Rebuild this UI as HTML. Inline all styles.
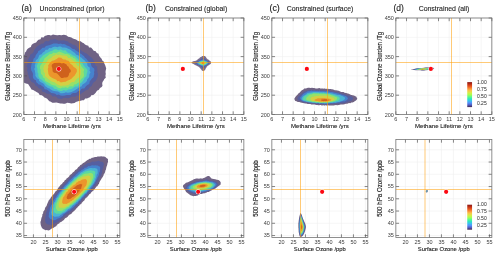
<!DOCTYPE html><html><head><meta charset="utf-8"><style>html,body{margin:0;padding:0;background:#fff}svg{display:block;will-change:transform}</style></head><body><svg width="500" height="258" viewBox="0 0 500 258" font-family="Liberation Sans, sans-serif">
<rect width="500" height="258" fill="#fff"/>
<clipPath id="c00"><rect x="23.85" y="18.00" width="96.00" height="96.50"/></clipPath>
<path d="M23.85 18.00V114.50M34.52 18.00V114.50M45.18 18.00V114.50M55.85 18.00V114.50M66.52 18.00V114.50M77.18 18.00V114.50M87.85 18.00V114.50M98.52 18.00V114.50M109.18 18.00V114.50M119.85 18.00V114.50M23.85 114.50H119.85M23.85 95.20H119.85M23.85 75.90H119.85M23.85 56.60H119.85M23.85 37.30H119.85M23.85 18.00H119.85" stroke="#f0f0f0" stroke-width="0.6" fill="none"/>
<g clip-path="url(#c00)"><path d="M20.8 66.0L20.4 63.9L21.0 61.6L20.2 59.6L21.0 58.0L22.2 56.4L23.5 55.1L24.7 54.4L24.8 52.7L26.1 51.6L26.7 50.1L27.7 48.8L29.2 47.8L30.9 46.9L31.5 44.9L32.9 43.7L34.6 43.0L36.1 42.4L37.2 41.0L38.5 39.7L40.5 39.3L41.4 37.2L43.5 37.5L44.7 36.1L46.3 35.4L47.8 35.0L49.3 34.9L51.0 35.4L53.0 34.5L55.1 35.1L57.3 35.2L59.4 34.9L61.5 35.3L63.6 34.8L65.2 35.1L66.7 35.6L68.1 36.7L69.7 36.9L71.4 37.5L72.9 38.5L74.4 38.9L76.1 39.4L77.3 40.6L79.0 41.2L80.7 41.2L82.1 42.4L83.8 43.2L85.0 44.4L86.5 45.2L88.3 45.7L89.0 47.4L91.0 47.5L92.4 49.1L93.7 50.7L95.7 51.3L96.8 53.0L98.5 53.8L99.1 55.8L100.2 57.3L101.6 58.8L102.3 60.6L103.9 61.7L104.3 63.5L105.1 64.9L105.6 66.6L106.2 68.4L105.8 70.0L105.5 72.0L105.8 74.0L105.4 75.7L105.8 77.8L104.3 79.0L103.6 80.6L102.5 82.1L102.2 83.8L102.5 85.7L101.7 87.1L100.0 88.1L98.9 89.8L97.0 90.8L95.7 92.7L94.5 93.9L93.3 95.0L91.3 95.2L90.3 96.9L88.6 97.8L86.9 98.4L85.1 98.5L84.0 100.2L82.2 100.3L80.7 100.8L79.0 100.9L77.4 101.6L75.9 101.9L74.6 103.1L72.9 103.2L71.3 103.5L69.2 102.9L67.1 102.7L65.1 103.8L63.5 103.7L62.0 103.5L60.4 103.4L58.4 102.9L56.2 102.6L54.1 102.8L52.3 102.8L50.9 101.7L49.4 101.2L48.2 100.1L47.2 98.7L45.8 98.1L44.4 97.4L43.2 96.3L41.8 95.3L39.7 95.0L38.4 93.0L36.5 92.1L34.9 90.9L33.2 90.1L31.5 89.4L30.4 87.4L29.2 85.7L28.1 84.0L25.9 83.6L24.2 82.7L22.7 81.0L21.9 79.6L21.6 77.8L20.7 76.0L20.3 74.1L20.4 72.1L20.3 70.1L20.8 68.0Z" fill="#6f6284"/>
<path d="M26.3 66.0L27.6 64.3L27.5 62.7L27.3 60.8L28.1 59.4L28.9 57.9L29.8 56.3L30.4 54.5L32.3 53.5L33.6 52.0L34.2 50.0L35.5 48.6L36.6 46.9L38.2 45.7L40.0 44.8L41.5 43.7L43.5 43.5L44.6 41.8L46.2 40.9L48.2 41.5L49.6 40.4L51.0 39.5L52.7 39.8L54.2 38.9L56.2 39.6L58.2 40.5L60.3 40.6L62.1 40.6L63.9 40.3L65.7 40.9L67.6 41.2L69.0 42.7L70.9 43.3L72.5 44.5L74.5 45.0L76.2 45.9L77.3 47.6L78.7 48.9L80.3 49.8L81.9 50.9L83.5 52.0L85.1 53.0L87.0 53.7L88.3 55.3L89.9 56.6L91.6 57.7L92.8 59.1L93.6 60.8L94.6 62.2L94.9 63.9L95.4 65.4L97.1 66.5L97.1 68.2L97.3 70.0L97.4 72.2L98.0 73.9L97.8 75.8L97.3 77.7L96.6 79.2L95.8 80.7L94.5 81.7L93.3 82.8L92.4 84.3L91.8 85.8L90.5 86.8L89.2 87.8L88.5 89.6L86.7 89.9L85.0 90.7L83.6 91.9L82.0 92.9L80.5 94.2L78.8 95.4L76.7 95.4L75.1 96.7L73.1 96.5L71.2 96.8L69.3 97.9L67.1 98.2L65.0 97.7L63.3 98.1L61.7 98.9L59.9 98.8L58.0 98.4L56.4 96.8L54.3 96.3L52.5 96.6L51.3 95.0L49.8 94.1L48.1 93.8L46.5 93.4L45.2 92.4L43.6 92.1L42.1 91.4L41.5 89.3L39.8 88.8L38.4 87.9L37.5 86.5L35.6 85.8L34.8 84.1L33.5 82.8L31.6 81.9L30.4 80.3L29.3 78.5L28.7 77.1L28.6 75.4L27.8 73.9L27.7 72.2L26.9 70.2L27.7 67.9Z" fill="#555fa0"/>
<path d="M31.1 66.8L31.4 64.6L32.1 62.4L33.2 60.9L33.5 58.7L35.2 57.2L35.6 55.5L36.6 54.1L37.7 52.7L38.3 51.0L40.0 50.2L41.2 48.9L42.5 47.7L44.5 47.7L45.9 45.9L47.9 45.4L49.9 44.9L51.7 44.2L53.4 43.5L55.3 43.5L57.1 43.6L58.8 44.1L60.8 43.4L62.2 44.2L63.9 44.1L65.4 44.5L66.8 45.6L68.5 45.9L70.0 46.8L71.4 47.9L72.8 48.9L74.6 49.2L75.8 50.4L77.2 51.2L78.6 52.2L79.8 53.3L81.4 54.0L82.7 55.2L84.1 56.2L84.9 57.8L86.4 58.8L87.4 60.2L88.4 61.4L90.4 62.6L91.1 64.5L91.5 66.2L92.6 67.5L94.1 68.4L94.5 70.2L94.0 72.3L94.3 73.8L93.8 75.5L93.5 77.2L92.0 78.6L90.8 80.1L89.7 81.5L89.3 84.0L87.3 85.1L85.7 86.5L84.3 88.4L82.4 88.5L81.0 89.3L80.2 91.1L78.2 91.0L76.9 92.5L75.2 93.1L73.4 93.0L71.9 93.6L70.5 94.9L68.6 94.9L66.7 95.1L64.9 95.5L62.6 95.8L60.4 95.5L58.8 94.6L56.8 95.1L55.3 93.8L53.4 93.2L51.3 92.9L49.7 91.7L48.2 90.4L46.6 89.6L44.6 89.2L43.7 87.0L41.9 86.1L40.6 84.8L38.6 84.6L37.6 83.3L36.3 82.3L35.9 80.3L34.3 79.4L33.1 77.9L32.8 76.0L33.0 74.0L32.4 72.2L31.3 70.4L30.9 68.6Z" fill="#4682cd"/>
<path d="M35.1 67.4L34.8 65.5L35.4 63.6L35.3 61.7L36.1 60.0L37.8 58.8L38.6 56.9L39.4 54.9L41.6 54.2L42.8 52.6L44.6 51.6L45.7 49.7L47.9 49.7L49.1 47.9L51.1 48.2L52.6 47.2L54.2 46.7L55.8 46.8L57.4 47.3L59.0 46.6L60.7 46.6L62.4 47.5L64.4 47.4L66.3 47.8L68.2 48.7L70.1 49.5L71.8 50.8L73.4 52.0L75.0 53.1L76.2 54.7L78.3 55.3L79.7 56.8L81.6 57.7L83.0 59.2L84.8 60.4L85.9 62.1L87.3 63.4L87.4 65.5L88.4 66.7L89.7 67.6L89.9 69.0L89.5 70.5L90.6 72.3L89.4 74.2L89.3 76.5L88.5 77.9L87.2 79.2L86.9 80.9L85.6 82.4L84.2 83.6L82.5 84.5L81.4 86.4L79.3 87.1L77.6 88.4L76.3 89.2L75.0 90.2L73.6 90.9L71.5 92.0L69.3 92.5L67.7 92.8L65.9 92.2L64.4 93.0L62.3 93.2L60.3 93.2L59.0 91.9L57.5 91.4L55.9 91.2L54.1 91.1L52.4 90.4L50.8 89.6L49.5 88.6L47.8 88.1L46.6 86.9L45.0 86.1L44.1 84.3L42.9 83.3L40.9 82.3L39.1 81.0L38.9 79.2L37.2 78.6L36.4 77.2L35.3 75.8L35.4 73.9L35.1 72.3L34.9 70.6L34.2 69.0Z" fill="#4bb4d2"/>
<path d="M37.2 67.9L36.6 66.0L37.5 64.3L37.8 62.8L39.0 61.5L39.4 59.7L40.3 58.2L41.7 56.9L42.9 55.5L44.6 54.6L46.0 53.5L47.7 52.8L49.0 51.9L50.5 51.2L52.0 50.9L54.0 49.6L56.2 49.2L58.3 50.2L60.6 49.3L62.1 50.3L63.7 50.5L65.6 50.2L66.9 52.0L68.5 52.9L70.2 53.5L71.6 54.6L73.0 55.6L74.9 55.9L76.1 57.3L77.6 58.4L78.7 59.8L80.0 61.0L81.3 62.3L82.7 63.4L83.3 65.0L84.4 66.2L85.1 67.3L86.9 69.1L87.5 70.6L87.3 72.2L86.7 74.1L86.5 76.2L84.6 77.7L83.8 79.8L82.7 81.2L81.6 82.4L80.2 83.4L79.0 84.7L77.8 86.4L75.5 86.5L73.8 87.5L72.0 88.7L70.1 89.3L68.1 89.6L66.0 90.8L63.8 90.1L62.0 90.9L60.2 91.0L58.2 90.3L56.3 89.0L54.6 89.1L53.4 87.8L52.2 86.8L49.9 86.3L48.0 85.3L46.7 84.4L45.6 83.2L44.5 82.2L42.9 81.1L41.7 79.7L39.7 78.6L38.6 76.8L38.2 75.3L38.4 73.6L37.5 72.2L37.5 70.0Z" fill="#5cd9a0"/>
<path d="M39.8 68.2L40.0 66.6L40.7 65.1L42.0 63.4L43.1 61.5L43.9 60.2L44.4 58.6L45.7 57.6L46.9 56.5L48.2 55.5L49.3 54.3L51.7 54.1L53.3 52.4L55.4 52.9L57.2 52.6L59.1 51.4L61.0 52.3L63.0 53.1L65.1 53.9L66.8 53.8L68.4 54.4L69.8 55.1L70.6 56.8L72.4 56.8L73.3 58.1L75.0 58.5L76.0 59.9L76.8 61.3L78.8 61.6L79.2 63.4L80.6 64.3L81.4 66.3L82.6 67.8L84.3 69.4L83.5 72.0L83.9 73.7L84.0 75.6L83.2 77.4L81.5 78.7L80.7 80.1L79.8 81.3L78.8 82.5L77.3 83.2L76.0 84.2L74.2 84.5L73.1 86.4L71.0 86.2L69.3 86.6L67.8 88.0L65.7 87.3L63.9 87.8L62.3 87.6L60.7 88.4L59.0 87.9L57.2 87.2L55.6 85.7L53.5 85.3L51.6 84.7L50.0 83.5L48.1 82.6L46.3 81.6L45.0 80.4L44.7 78.4L42.9 77.6L42.6 75.6L41.1 74.1L40.7 72.1L40.7 70.1Z" fill="#96e169"/>
<path d="M43.2 68.4L43.9 65.8L45.3 64.5L46.2 62.9L47.2 61.2L48.2 59.5L50.0 58.5L51.7 57.5L53.0 56.1L54.7 55.6L56.1 54.3L57.9 55.0L59.5 54.6L61.1 55.3L62.9 55.4L64.9 55.4L66.9 56.0L68.1 58.1L70.3 58.2L71.7 59.7L73.4 60.7L75.1 61.9L76.2 63.8L77.2 65.5L79.1 66.4L79.4 68.0L80.8 69.4L80.7 71.7L80.7 73.1L80.6 74.7L79.8 76.2L78.9 77.6L76.5 79.0L74.9 81.0L74.0 82.2L72.2 82.1L70.8 82.7L69.7 84.1L68.4 84.9L66.9 85.2L65.2 85.7L63.6 85.5L60.8 85.9L59.3 85.3L57.8 84.8L56.3 83.7L54.9 82.6L53.3 81.9L51.7 81.5L50.2 80.5L49.0 79.4L47.7 78.5L46.7 77.5L45.4 76.6L44.7 75.0L45.1 73.2L43.6 71.8L43.8 70.0Z" fill="#d4d044"/>
<path d="M47.8 68.9L48.4 67.0L48.1 65.5L48.9 64.2L49.8 62.9L51.0 61.8L52.2 60.8L53.9 60.5L55.1 59.7L56.3 59.2L58.6 57.5L61.2 57.8L62.5 58.9L63.8 59.5L65.4 59.6L66.8 60.6L68.5 60.7L69.4 62.1L70.2 63.6L71.5 64.4L72.7 65.5L73.5 66.7L75.8 68.3L76.8 69.6L76.9 71.5L75.9 73.6L74.5 75.7L73.0 77.0L71.7 78.4L69.9 79.7L67.7 80.6L65.6 81.7L63.0 81.9L60.9 82.6L58.8 81.0L57.2 81.2L56.4 79.7L54.0 78.8L51.5 77.6L49.7 76.2L48.4 74.1L48.1 71.4Z" fill="#ec962c"/>
<path d="M52.3 67.9L51.6 66.1L52.0 64.4L54.1 63.0L55.9 62.8L57.9 62.5L59.9 62.6L61.7 63.5L63.6 63.0L65.1 63.8L66.5 64.6L67.3 66.0L68.6 66.7L69.1 68.2L70.2 69.2L70.8 70.6L70.7 72.1L69.3 73.1L69.0 74.4L68.4 75.9L67.3 77.2L65.5 77.4L64.1 77.6L62.8 78.0L61.3 78.0L60.2 76.9L58.6 75.1L57.1 73.6L56.1 72.9L54.0 72.7L52.6 71.3L52.5 69.6Z" fill="#cf611c"/></g>
<path d="M79.50 18.00V114.50M23.85 62.50H119.85" stroke="#ff9f0a" stroke-width="0.85" stroke-opacity="0.66" fill="none"/>
<circle cx="58.84" cy="68.95" r="2.5" fill="#fff"/><circle cx="58.84" cy="68.95" r="2.1" fill="#fc0812"/>
<path d="M23.85 114.50v-3.20M23.85 18.00v3.20M34.52 114.50v-3.20M34.52 18.00v3.20M45.18 114.50v-3.20M45.18 18.00v3.20M55.85 114.50v-3.20M55.85 18.00v3.20M66.52 114.50v-3.20M66.52 18.00v3.20M77.18 114.50v-3.20M77.18 18.00v3.20M87.85 114.50v-3.20M87.85 18.00v3.20M98.52 114.50v-3.20M98.52 18.00v3.20M109.18 114.50v-3.20M109.18 18.00v3.20M119.85 114.50v-3.20M119.85 18.00v3.20M23.85 114.50h3.20M119.85 114.50h-3.20M23.85 95.20h3.20M119.85 95.20h-3.20M23.85 75.90h3.20M119.85 75.90h-3.20M23.85 56.60h3.20M119.85 56.60h-3.20M23.85 37.30h3.20M119.85 37.30h-3.20M23.85 18.00h3.20M119.85 18.00h-3.20" stroke="#555" stroke-width="0.7" fill="none"/>
<rect x="23.85" y="18.00" width="96.00" height="96.50" fill="none" stroke="#747474" stroke-width="0.8"/>
<text x="23.85" y="121.10" font-size="5.5" text-anchor="middle" fill="#3c3c3c">6</text>
<text x="34.52" y="121.10" font-size="5.5" text-anchor="middle" fill="#3c3c3c">7</text>
<text x="45.18" y="121.10" font-size="5.5" text-anchor="middle" fill="#3c3c3c">8</text>
<text x="55.85" y="121.10" font-size="5.5" text-anchor="middle" fill="#3c3c3c">9</text>
<text x="66.52" y="121.10" font-size="5.5" text-anchor="middle" fill="#3c3c3c">10</text>
<text x="77.18" y="121.10" font-size="5.5" text-anchor="middle" fill="#3c3c3c">11</text>
<text x="87.85" y="121.10" font-size="5.5" text-anchor="middle" fill="#3c3c3c">12</text>
<text x="98.52" y="121.10" font-size="5.5" text-anchor="middle" fill="#3c3c3c">13</text>
<text x="109.18" y="121.10" font-size="5.5" text-anchor="middle" fill="#3c3c3c">14</text>
<text x="119.85" y="121.10" font-size="5.5" text-anchor="middle" fill="#3c3c3c">15</text>
<text x="21.85" y="116.50" font-size="5.5" text-anchor="end" fill="#3c3c3c">200</text>
<text x="21.85" y="97.20" font-size="5.5" text-anchor="end" fill="#3c3c3c">250</text>
<text x="21.85" y="77.90" font-size="5.5" text-anchor="end" fill="#3c3c3c">300</text>
<text x="21.85" y="58.60" font-size="5.5" text-anchor="end" fill="#3c3c3c">350</text>
<text x="21.85" y="39.30" font-size="5.5" text-anchor="end" fill="#3c3c3c">400</text>
<text x="21.85" y="20.00" font-size="5.5" text-anchor="end" fill="#3c3c3c">450</text>
<text x="43.05" y="128.40" font-size="6.0" textLength="57.6" lengthAdjust="spacingAndGlyphs" fill="#1c1c1c" stroke="#1c1c1c" stroke-width="0.12">Methane Lifetime /yrs</text>
<text transform="translate(10.05 66.25) rotate(-90)" x="-34.50" font-size="6.35" textLength="69.0" lengthAdjust="spacingAndGlyphs" fill="#1c1c1c" stroke="#1c1c1c" stroke-width="0.12">Global Ozone Burden /Tg</text>
<text x="21.45" y="11.2" font-size="8.2" textLength="10.4" lengthAdjust="spacingAndGlyphs" fill="#1c1c1c" stroke="#1c1c1c" stroke-width="0.12">(a)</text>
<text x="72.05" y="11.1" font-size="6.93" text-anchor="middle" fill="#1c1c1c" stroke="#1c1c1c" stroke-width="0.1">Unconstrained (prior)</text>
<clipPath id="c01"><rect x="147.85" y="18.00" width="96.00" height="96.50"/></clipPath>
<path d="M147.85 18.00V114.50M158.52 18.00V114.50M169.18 18.00V114.50M179.85 18.00V114.50M190.52 18.00V114.50M201.18 18.00V114.50M211.85 18.00V114.50M222.52 18.00V114.50M233.18 18.00V114.50M243.85 18.00V114.50M147.85 114.50H243.85M147.85 95.20H243.85M147.85 75.90H243.85M147.85 56.60H243.85M147.85 37.30H243.85M147.85 18.00H243.85" stroke="#f0f0f0" stroke-width="0.6" fill="none"/>
<g clip-path="url(#c01)"><path d="M191.5 63.0L191.7 62.0L192.4 61.7L193.3 61.3L194.2 61.0L195.1 61.0L196.1 60.4L196.9 60.2L197.3 59.7L197.8 59.3L198.3 59.1L198.7 58.6L199.2 58.5L199.5 58.0L199.9 57.6L200.3 57.3L200.8 57.1L201.3 56.8L201.9 56.6L202.3 56.1L203.0 56.0L203.6 55.8L204.2 56.0L204.9 56.0L205.4 56.4L205.9 56.9L206.2 57.4L206.4 58.0L206.8 58.4L207.2 58.8L207.5 59.2L208.0 59.5L208.6 59.7L209.1 60.1L209.5 60.7L210.1 61.1L210.8 61.5L211.0 62.3L211.1 63.0L210.8 63.7L210.2 64.3L209.4 64.8L208.8 65.2L208.3 65.5L207.8 65.8L207.4 66.0L207.2 66.5L206.7 66.8L206.6 67.3L206.3 67.7L205.9 68.2L205.6 68.7L205.3 69.4L205.0 70.2L204.3 70.6L203.7 71.0L203.0 70.9L202.3 70.8L201.7 70.3L201.3 69.5L200.7 69.0L200.4 68.5L200.1 68.0L199.7 67.6L199.2 67.4L198.9 67.1L198.4 66.8L198.1 66.3L197.4 66.2L196.8 65.8L196.1 65.4L195.1 65.1L194.2 64.6L193.1 63.7L192.3 63.4Z" fill="#7a6e90"/>
<path d="M194.7 63.0L194.9 62.3L195.9 61.7L197.0 61.3L197.7 60.9L198.3 60.9L198.8 60.6L199.1 60.3L199.5 60.2L199.7 59.7L200.1 59.5L200.5 59.4L200.9 59.3L201.2 59.1L201.4 58.8L201.8 58.6L202.2 58.4L202.6 58.3L203.0 58.3L203.4 58.0L203.8 58.2L204.2 58.3L204.6 58.6L204.9 58.8L205.2 59.0L205.6 59.3L205.8 59.6L206.1 59.8L206.4 60.1L206.9 60.2L207.2 60.5L207.6 60.9L208.1 61.1L208.6 61.4L209.0 61.8L209.2 62.4L209.3 63.0L208.9 63.4L208.6 63.9L208.0 64.2L207.6 64.7L207.2 65.0L206.8 65.3L206.4 65.4L206.1 65.6L205.9 65.9L205.7 66.2L205.4 66.4L205.1 66.7L204.8 67.0L204.6 67.4L204.2 67.8L203.9 68.1L203.5 68.5L203.0 68.3L202.5 68.3L202.1 67.9L201.7 67.6L201.5 67.1L201.1 67.0L200.8 66.7L200.5 66.5L200.2 66.3L200.0 65.9L199.6 65.8L199.2 65.6L198.8 65.4L198.3 65.0L197.7 64.9L197.0 64.6L196.5 64.1L195.7 63.6Z" fill="#555fa0"/>
<path d="M196.6 62.9L196.5 62.3L197.2 62.0L198.0 61.7L198.6 61.4L199.0 61.2L199.3 60.8L199.7 60.6L200.0 60.4L200.4 60.3L200.8 60.4L201.0 60.2L201.3 60.1L201.5 59.9L201.9 59.9L202.1 59.7L202.4 59.5L202.7 59.6L203.0 59.6L203.3 59.3L203.6 59.4L203.9 59.5L204.2 59.5L204.5 59.7L204.8 59.8L205.0 60.0L205.3 60.2L205.5 60.4L205.8 60.6L206.2 60.6L206.6 60.8L207.0 61.1L207.3 61.4L207.8 61.6L208.2 62.0L208.5 62.5L208.4 63.0L208.3 63.4L208.1 64.0L207.6 64.3L207.1 64.5L206.7 64.7L206.3 64.9L206.1 65.2L205.8 65.4L205.4 65.4L205.2 65.6L205.0 65.8L204.7 66.0L204.4 66.0L204.2 66.4L203.9 66.5L203.7 66.7L203.3 66.8L203.0 66.7L202.7 66.6L202.3 66.6L202.0 66.5L201.8 66.1L201.5 66.1L201.2 66.0L201.1 65.6L200.8 65.6L200.5 65.4L200.1 65.4L199.8 65.1L199.4 65.1L198.9 64.9L198.4 64.7L198.0 64.3L197.5 63.9L197.1 63.4Z" fill="#4682cd"/>
<path d="M197.7 63.0L197.9 62.6L198.3 62.1L198.8 61.9L199.1 61.5L199.6 61.3L199.9 61.2L200.3 61.2L200.6 60.9L200.9 60.9L201.2 60.9L201.4 60.9L201.6 60.6L201.8 60.5L202.1 60.7L202.3 60.6L202.5 60.4L202.7 60.3L203.0 60.5L203.2 60.3L203.4 60.5L203.7 60.4L203.9 60.6L204.1 60.4L204.3 60.7L204.6 60.6L204.8 60.8L205.0 61.0L205.3 61.1L205.7 61.0L206.0 61.2L206.4 61.4L206.7 61.6L207.1 61.8L207.5 62.1L207.7 62.5L207.6 63.0L207.5 63.3L207.5 63.8L207.0 64.0L206.6 64.2L206.3 64.6L205.9 64.6L205.6 64.9L205.3 64.9L205.0 65.0L204.8 65.1L204.6 65.3L204.3 65.3L204.1 65.4L203.9 65.5L203.7 65.5L203.5 65.7L203.2 65.7L203.0 65.8L202.7 65.6L202.5 65.6L202.3 65.6L202.1 65.4L201.9 65.3L201.6 65.3L201.4 65.3L201.2 65.1L200.9 65.2L200.6 65.1L200.3 64.9L199.9 64.8L199.6 64.6L199.2 64.4L198.7 64.2L198.4 63.8L198.0 63.5Z" fill="#4bb4d2"/>
<path d="M198.8 63.0L198.9 62.6L199.1 62.3L199.3 61.9L199.7 61.8L200.1 61.6L200.4 61.6L200.7 61.3L201.0 61.4L201.3 61.4L201.5 61.2L201.7 61.2L201.9 61.0L202.1 61.2L202.3 61.0L202.5 61.1L202.6 61.1L202.8 60.9L203.0 61.0L203.2 61.1L203.3 60.8L203.5 60.9L203.7 61.1L203.9 60.9L204.1 61.2L204.3 61.0L204.5 61.3L204.8 61.1L205.0 61.3L205.2 61.5L205.6 61.4L205.9 61.6L206.2 61.8L206.6 62.0L206.9 62.2L207.1 62.6L207.2 63.0L206.9 63.3L206.7 63.6L206.4 63.8L206.2 64.2L205.8 64.2L205.6 64.6L205.2 64.5L205.0 64.6L204.7 64.8L204.5 64.7L204.3 64.8L204.1 64.9L203.9 64.8L203.7 65.1L203.5 64.9L203.3 65.0L203.2 65.1L203.0 65.0L202.8 65.1L202.6 64.9L202.4 65.0L202.3 65.0L202.1 64.8L201.9 64.9L201.7 64.9L201.5 64.7L201.2 64.9L201.0 64.6L200.7 64.6L200.4 64.4L200.1 64.2L199.8 64.1L199.4 63.9L199.1 63.7L198.8 63.4Z" fill="#5cd9a0"/>
<path d="M199.5 63.0L199.6 62.6L199.9 62.4L200.0 62.2L200.3 62.0L200.7 62.0L200.8 61.7L201.1 61.6L201.4 61.7L201.5 61.4L201.7 61.4L201.9 61.4L202.1 61.3L202.3 61.4L202.4 61.4L202.6 61.4L202.7 61.4L202.8 61.3L203.0 61.4L203.1 61.4L203.3 61.3L203.4 61.6L203.5 61.4L203.7 61.3L203.9 61.3L204.0 61.5L204.2 61.6L204.4 61.6L204.6 61.6L204.9 61.6L205.1 61.6L205.3 61.9L205.6 62.0L205.9 62.2L206.1 62.4L206.3 62.7L206.2 63.0L206.2 63.2L206.2 63.6L205.8 63.7L205.7 64.1L205.3 64.1L205.1 64.2L204.9 64.4L204.6 64.5L204.4 64.3L204.2 64.6L204.0 64.4L203.8 64.4L203.7 64.6L203.5 64.6L203.4 64.5L203.3 64.5L203.1 64.5L203.0 64.4L202.8 64.6L202.7 64.6L202.6 64.6L202.4 64.7L202.3 64.4L202.1 64.4L201.9 64.4L201.7 64.6L201.6 64.3L201.4 64.3L201.1 64.3L200.9 64.1L200.6 64.1L200.3 64.0L200.0 63.8L199.8 63.6L199.5 63.3Z" fill="#96e169"/>
<path d="M200.4 63.0L200.5 62.8L200.6 62.6L200.8 62.5L201.0 62.3L201.1 62.1L201.4 62.1L201.5 62.0L201.8 62.0L201.9 61.9L202.0 61.8L202.2 61.9L202.3 62.0L202.4 61.7L202.6 61.9L202.7 61.6L202.8 61.7L202.9 61.7L203.0 61.9L203.1 61.9L203.2 61.9L203.3 61.7L203.4 61.9L203.5 61.8L203.7 61.7L203.8 62.0L203.9 61.9L204.0 61.9L204.2 62.0L204.4 62.1L204.6 62.0L204.8 62.2L205.0 62.3L205.1 62.5L205.4 62.5L205.4 62.8L205.5 63.0L205.6 63.2L205.5 63.5L205.2 63.5L205.1 63.8L204.7 63.7L204.6 64.0L204.4 64.1L204.3 64.1L204.0 63.9L203.9 64.1L203.8 64.2L203.7 64.3L203.5 64.3L203.4 64.1L203.3 64.1L203.2 64.1L203.1 64.1L203.0 64.3L202.9 64.1L202.8 64.2L202.7 64.1L202.6 64.1L202.4 64.0L202.3 64.3L202.2 64.0L202.1 64.0L201.9 63.9L201.7 64.1L201.5 64.1L201.3 64.0L201.1 64.0L201.0 63.6L200.8 63.5L200.6 63.4L200.5 63.2Z" fill="#d4d044"/>
<path d="M201.2 63.0L201.2 62.8L201.2 62.6L201.4 62.5L201.6 62.5L201.7 62.3L201.8 62.3L202.0 62.3L202.1 62.1L202.2 62.2L202.3 62.1L202.4 62.3L202.5 62.1L202.6 62.1L202.7 62.3L202.8 62.2L202.8 62.3L202.9 62.2L203.0 62.0L203.0 62.1L203.1 62.1L203.2 62.2L203.3 62.1L203.3 62.2L203.4 62.2L203.5 62.1L203.6 62.3L203.8 62.1L203.8 62.3L204.0 62.2L204.1 62.2L204.3 62.3L204.3 62.5L204.4 62.7L204.8 62.6L204.7 62.8L204.8 63.0L204.6 63.1L204.7 63.3L204.5 63.4L204.4 63.5L204.2 63.5L204.1 63.7L203.9 63.5L203.9 63.8L203.7 63.8L203.6 63.7L203.5 63.8L203.5 63.9L203.3 63.7L203.3 63.9L203.2 63.7L203.1 63.7L203.0 63.7L203.0 63.8L202.9 63.8L202.8 63.8L202.8 63.8L202.7 63.7L202.6 63.9L202.5 63.7L202.4 63.9L202.3 63.8L202.2 63.8L202.1 63.6L202.0 63.7L201.8 63.7L201.8 63.5L201.5 63.6L201.4 63.4L201.3 63.3L201.3 63.1Z" fill="#ec962c"/>
<path d="M202.2 63.0L202.1 62.9L202.1 62.8L202.2 62.7L202.2 62.6L202.4 62.8L202.4 62.7L202.5 62.7L202.5 62.5L202.6 62.6L202.7 62.7L202.7 62.6L202.7 62.5L202.8 62.6L202.8 62.7L202.9 62.5L202.9 62.5L202.9 62.5L203.0 62.6L203.0 62.7L203.1 62.5L203.1 62.5L203.1 62.5L203.2 62.5L203.2 62.6L203.3 62.5L203.3 62.5L203.4 62.5L203.4 62.8L203.4 62.7L203.6 62.5L203.5 62.8L203.7 62.6L203.8 62.7L203.7 62.9L203.8 62.9L203.8 63.0L203.9 63.1L203.9 63.2L203.7 63.2L203.7 63.3L203.6 63.3L203.5 63.3L203.5 63.5L203.4 63.4L203.3 63.3L203.3 63.3L203.3 63.4L203.2 63.3L203.2 63.4L203.1 63.5L203.1 63.4L203.1 63.4L203.0 63.3L203.0 63.3L202.9 63.4L202.9 63.4L202.9 63.3L202.8 63.4L202.8 63.5L202.8 63.3L202.7 63.3L202.7 63.3L202.6 63.3L202.6 63.2L202.5 63.3L202.4 63.3L202.3 63.3L202.2 63.3L202.2 63.2L202.0 63.2L202.1 63.1Z" fill="#cf611c"/></g>
<path d="M203.50 18.00V114.50M147.85 62.50H243.85" stroke="#ff9f0a" stroke-width="0.85" stroke-opacity="0.66" fill="none"/>
<circle cx="182.84" cy="68.95" r="2.5" fill="#fff"/><circle cx="182.84" cy="68.95" r="2.1" fill="#fc0812"/>
<path d="M147.85 114.50v-3.20M147.85 18.00v3.20M158.52 114.50v-3.20M158.52 18.00v3.20M169.18 114.50v-3.20M169.18 18.00v3.20M179.85 114.50v-3.20M179.85 18.00v3.20M190.52 114.50v-3.20M190.52 18.00v3.20M201.18 114.50v-3.20M201.18 18.00v3.20M211.85 114.50v-3.20M211.85 18.00v3.20M222.52 114.50v-3.20M222.52 18.00v3.20M233.18 114.50v-3.20M233.18 18.00v3.20M243.85 114.50v-3.20M243.85 18.00v3.20M147.85 114.50h3.20M243.85 114.50h-3.20M147.85 95.20h3.20M243.85 95.20h-3.20M147.85 75.90h3.20M243.85 75.90h-3.20M147.85 56.60h3.20M243.85 56.60h-3.20M147.85 37.30h3.20M243.85 37.30h-3.20M147.85 18.00h3.20M243.85 18.00h-3.20" stroke="#555" stroke-width="0.7" fill="none"/>
<rect x="147.85" y="18.00" width="96.00" height="96.50" fill="none" stroke="#747474" stroke-width="0.8"/>
<text x="147.85" y="121.10" font-size="5.5" text-anchor="middle" fill="#3c3c3c">6</text>
<text x="158.52" y="121.10" font-size="5.5" text-anchor="middle" fill="#3c3c3c">7</text>
<text x="169.18" y="121.10" font-size="5.5" text-anchor="middle" fill="#3c3c3c">8</text>
<text x="179.85" y="121.10" font-size="5.5" text-anchor="middle" fill="#3c3c3c">9</text>
<text x="190.52" y="121.10" font-size="5.5" text-anchor="middle" fill="#3c3c3c">10</text>
<text x="201.18" y="121.10" font-size="5.5" text-anchor="middle" fill="#3c3c3c">11</text>
<text x="211.85" y="121.10" font-size="5.5" text-anchor="middle" fill="#3c3c3c">12</text>
<text x="222.52" y="121.10" font-size="5.5" text-anchor="middle" fill="#3c3c3c">13</text>
<text x="233.18" y="121.10" font-size="5.5" text-anchor="middle" fill="#3c3c3c">14</text>
<text x="243.85" y="121.10" font-size="5.5" text-anchor="middle" fill="#3c3c3c">15</text>
<text x="145.85" y="116.50" font-size="5.5" text-anchor="end" fill="#3c3c3c">200</text>
<text x="145.85" y="97.20" font-size="5.5" text-anchor="end" fill="#3c3c3c">250</text>
<text x="145.85" y="77.90" font-size="5.5" text-anchor="end" fill="#3c3c3c">300</text>
<text x="145.85" y="58.60" font-size="5.5" text-anchor="end" fill="#3c3c3c">350</text>
<text x="145.85" y="39.30" font-size="5.5" text-anchor="end" fill="#3c3c3c">400</text>
<text x="145.85" y="20.00" font-size="5.5" text-anchor="end" fill="#3c3c3c">450</text>
<text x="167.05" y="128.40" font-size="6.0" textLength="57.6" lengthAdjust="spacingAndGlyphs" fill="#1c1c1c" stroke="#1c1c1c" stroke-width="0.12">Methane Lifetime /yrs</text>
<text transform="translate(134.05 66.25) rotate(-90)" x="-34.50" font-size="6.35" textLength="69.0" lengthAdjust="spacingAndGlyphs" fill="#1c1c1c" stroke="#1c1c1c" stroke-width="0.12">Global Ozone Burden /Tg</text>
<text x="145.45" y="11.2" font-size="8.2" textLength="10.4" lengthAdjust="spacingAndGlyphs" fill="#1c1c1c" stroke="#1c1c1c" stroke-width="0.12">(b)</text>
<text x="196.05" y="11.1" font-size="6.93" text-anchor="middle" fill="#1c1c1c" stroke="#1c1c1c" stroke-width="0.1">Constrained (global)</text>
<clipPath id="c02"><rect x="271.85" y="18.00" width="96.00" height="96.50"/></clipPath>
<path d="M271.85 18.00V114.50M282.52 18.00V114.50M293.18 18.00V114.50M303.85 18.00V114.50M314.52 18.00V114.50M325.18 18.00V114.50M335.85 18.00V114.50M346.52 18.00V114.50M357.18 18.00V114.50M367.85 18.00V114.50M271.85 114.50H367.85M271.85 95.20H367.85M271.85 75.90H367.85M271.85 56.60H367.85M271.85 37.30H367.85M271.85 18.00H367.85" stroke="#f0f0f0" stroke-width="0.6" fill="none"/>
<g clip-path="url(#c02)"><path d="M295.5 96.7L296.4 95.7L297.5 94.7L298.3 93.6L299.3 92.9L300.1 92.0L300.9 91.3L301.5 90.5L302.4 90.0L303.4 89.5L304.2 88.6L305.5 88.5L306.7 88.2L307.9 87.8L309.2 87.7L310.6 88.1L312.0 87.7L313.2 88.1L314.2 87.9L315.8 88.4L317.2 88.5L318.4 88.3L319.4 88.1L320.3 88.4L321.1 88.5L321.9 88.6L322.6 88.5L323.2 88.6L323.8 88.8L324.4 88.6L325.0 88.6L325.6 89.0L326.1 88.6L326.7 88.9L327.2 88.8L327.8 89.0L328.4 88.7L328.9 89.3L329.5 89.0L330.2 88.9L330.8 89.1L331.5 89.3L332.3 89.2L333.0 89.6L333.9 89.8L334.8 90.2L336.0 90.2L337.2 90.5L338.6 90.8L340.2 91.5L341.2 91.9L342.3 91.9L343.5 92.1L344.6 92.8L346.1 93.0L347.7 93.4L348.9 93.7L350.1 94.5L351.4 95.0L352.6 95.3L354.0 95.6L355.2 96.2L356.2 96.5L356.8 97.8L357.3 98.8L356.7 99.8L355.6 100.7L354.7 101.2L353.7 101.9L352.5 102.4L351.3 102.6L350.3 103.2L349.0 103.1L347.4 103.7L345.9 103.7L344.5 104.3L343.1 104.4L341.9 104.6L340.8 104.6L338.9 105.0L337.3 105.2L335.9 104.9L334.7 105.3L333.7 105.4L332.7 105.5L331.8 105.4L331.0 105.5L330.2 105.4L329.4 105.4L328.8 105.6L328.1 105.3L327.4 105.3L326.8 105.8L326.2 105.3L325.6 105.3L324.9 105.3L324.3 105.7L323.7 105.2L323.0 105.3L322.3 105.6L321.6 105.6L320.9 105.0L320.1 105.1L319.2 105.2L318.3 105.2L317.3 105.1L316.1 104.9L314.8 104.5L313.3 104.6L311.4 104.5L310.3 104.0L309.1 103.9L307.7 104.1L306.3 103.5L305.2 103.5L304.2 103.2L303.0 103.1L301.8 102.7L300.6 102.5L299.3 102.1L297.8 102.1L296.5 101.3L295.3 100.9L294.7 99.9L294.3 98.8L294.9 97.8Z" fill="#6f6284"/>
<path d="M298.0 97.1L298.8 96.2L299.7 95.4L300.5 94.6L301.5 94.1L302.1 93.2L303.0 92.8L304.3 91.5L305.3 91.2L306.3 90.8L307.3 90.5L308.4 90.5L309.4 89.8L310.6 90.2L311.8 90.0L313.0 90.2L314.9 90.3L316.3 90.5L317.6 90.3L318.6 90.3L319.5 90.7L320.3 90.2L321.0 90.5L321.7 90.5L322.3 90.2L322.9 90.6L323.5 90.6L324.0 90.8L324.5 90.5L325.0 90.9L325.5 90.7L326.0 90.7L326.5 91.0L327.0 90.5L327.5 90.9L328.1 90.9L328.6 90.8L329.1 91.2L329.8 91.0L330.4 91.1L331.1 91.3L331.8 91.5L332.7 91.3L333.5 91.6L334.5 91.8L335.7 92.1L336.9 92.6L338.6 92.6L340.3 93.4L341.5 93.4L342.6 93.8L343.9 94.0L345.3 94.6L346.2 95.2L347.3 95.3L348.5 95.8L349.9 96.0L351.3 96.5L352.4 97.0L353.0 98.0L353.1 98.9L352.5 99.6L351.9 100.7L350.3 101.0L348.8 101.5L347.3 102.1L345.9 102.7L344.4 102.9L343.1 103.3L341.8 103.4L340.6 103.1L339.6 103.4L338.6 103.5L336.9 103.6L335.4 103.6L334.2 103.9L333.2 104.0L332.2 104.0L331.3 104.1L330.5 104.2L329.8 104.2L329.1 104.5L328.5 104.2L327.9 104.4L327.3 104.2L326.7 104.6L326.1 104.5L325.6 104.6L325.0 104.2L324.5 104.1L323.9 104.2L323.3 104.3L322.8 104.0L322.2 104.0L321.5 104.1L320.8 104.3L320.1 104.2L319.4 104.0L318.5 104.0L317.6 103.9L316.6 103.7L315.4 103.4L314.0 103.8L312.4 103.3L311.4 103.6L310.3 103.4L309.2 102.9L307.9 102.8L306.5 102.4L305.0 102.4L303.9 102.5L302.8 102.0L301.7 101.6L300.6 101.1L299.4 100.7L298.3 100.6L297.3 98.9Z" fill="#555fa0"/>
<path d="M300.3 97.0L301.2 96.4L301.8 95.5L302.5 94.8L303.2 94.1L304.6 93.0L306.3 92.3L307.8 91.3L309.7 91.3L311.6 90.5L312.6 91.0L313.6 90.7L315.2 90.7L316.4 91.1L317.4 90.8L318.3 91.2L319.1 90.8L319.8 90.8L320.4 91.2L321.0 91.2L321.6 91.3L322.1 91.2L322.6 90.9L323.0 91.2L323.5 91.3L323.9 91.2L324.3 91.5L324.8 91.1L325.2 91.6L325.6 91.4L326.1 91.1L326.6 91.1L327.0 91.5L327.5 91.7L328.1 91.3L328.7 91.5L329.2 91.9L329.9 91.6L330.6 92.2L331.4 92.1L332.4 92.0L333.4 92.4L334.6 92.8L336.0 93.0L337.6 93.5L338.6 93.5L339.6 94.2L340.7 94.3L341.9 94.8L343.2 95.3L344.6 95.7L345.7 96.1L346.7 96.8L347.4 97.3L348.0 98.7L346.9 100.1L345.8 100.8L344.5 101.5L343.0 101.3L341.8 101.8L340.6 102.0L339.5 102.5L338.4 102.5L337.3 102.4L335.6 102.7L334.2 103.0L333.0 103.3L331.9 103.3L330.9 103.1L330.1 103.5L329.4 103.4L328.7 103.5L328.0 103.3L327.4 103.4L326.9 103.7L326.4 103.9L325.8 103.8L325.3 103.7L324.9 103.6L324.4 103.4L323.9 103.4L323.4 103.9L322.9 103.4L322.4 103.4L321.9 103.3L321.4 103.5L320.9 103.6L320.3 103.2L319.7 103.2L319.0 103.2L318.3 103.0L317.5 103.3L316.6 103.4L315.6 103.0L314.4 102.7L312.9 102.9L311.2 102.4L310.2 102.2L309.1 102.5L307.9 102.1L306.7 101.8L305.3 101.6L303.8 101.4L302.3 100.9L301.1 100.1L300.2 98.7Z" fill="#4682cd"/>
<path d="M302.0 97.5L303.1 96.1L304.7 95.2L306.1 94.2L307.3 93.1L308.9 92.7L310.6 92.4L312.2 92.2L314.0 92.0L315.3 92.0L316.4 92.1L317.4 91.9L318.2 91.9L318.9 91.9L319.5 92.2L320.1 92.0L320.6 92.2L321.1 92.1L321.5 92.2L322.0 92.0L322.4 91.9L322.8 92.5L323.2 92.1L323.6 92.0L324.0 92.3L324.4 92.5L324.8 92.1L325.2 92.4L325.7 92.3L326.1 92.4L326.6 92.2L327.1 92.2L327.5 92.9L328.1 92.9L328.7 92.7L329.4 92.9L330.2 92.8L331.0 93.3L332.0 93.2L333.1 93.8L334.4 94.0L336.0 94.4L337.7 95.0L338.9 94.9L340.0 95.1L341.1 95.7L342.3 96.1L343.7 96.7L344.9 97.4L345.0 99.0L343.7 100.1L342.8 100.8L341.5 100.9L340.4 101.3L339.4 102.1L338.2 102.0L337.2 102.3L335.4 102.7L333.8 102.4L332.5 103.0L331.4 102.9L330.4 103.0L329.5 102.8L328.8 103.1L328.1 103.3L327.5 103.3L327.0 103.5L326.4 103.0L325.9 103.0L325.4 103.5L325.0 103.6L324.5 103.5L324.1 103.4L323.6 103.1L323.2 103.1L322.8 103.1L322.3 103.6L321.9 103.1L321.4 103.1L321.0 103.2L320.5 102.9L319.9 103.5L319.4 103.4L318.8 102.9L318.1 102.8L317.4 102.9L316.6 103.0L315.7 102.8L314.6 102.6L313.3 102.8L311.7 102.5L309.8 102.3L308.8 102.2L307.7 101.8L306.4 101.7L305.2 101.3L303.8 101.0L302.7 100.2L301.4 99.0Z" fill="#4bb4d2"/>
<path d="M303.4 97.9L304.2 96.5L305.3 95.4L306.9 95.0L308.0 93.9L309.5 93.8L310.9 93.4L312.2 93.2L313.7 92.8L314.8 93.0L315.7 92.8L316.5 93.3L317.2 93.2L317.8 93.1L318.3 93.0L318.8 92.9L319.2 93.2L319.7 93.0L320.1 93.1L320.4 92.9L320.8 92.9L321.2 92.8L321.5 93.2L321.9 93.2L322.2 92.9L322.5 93.4L322.9 93.0L323.3 93.1L323.6 93.0L324.0 93.1L324.4 93.5L324.9 93.2L325.3 93.2L325.8 93.4L326.4 93.4L326.9 93.8L327.6 93.5L328.3 94.1L329.3 93.7L330.2 94.4L331.4 94.5L332.8 94.6L334.4 95.2L336.2 95.8L337.2 96.2L338.2 96.6L339.2 97.2L339.7 98.0L339.9 99.0L338.9 100.0L338.2 100.8L337.2 101.1L336.1 101.1L335.3 101.8L333.4 101.8L331.9 102.3L330.5 102.1L329.5 102.8L328.5 102.4L327.7 102.7L327.0 102.9L326.3 103.1L325.7 102.6L325.2 102.8L324.7 103.1L324.2 102.9L323.8 102.6L323.4 103.1L323.0 102.9L322.6 103.1L322.2 103.1L321.9 102.8L321.5 102.8L321.1 103.1L320.7 103.1L320.4 103.1L320.0 102.8L319.6 102.8L319.1 103.0L318.7 103.0L318.2 102.7L317.7 102.6L317.2 102.5L316.5 102.6L315.8 102.7L315.0 102.7L314.1 102.2L313.0 102.3L311.7 102.0L310.1 102.1L308.3 101.3L307.2 101.4L306.3 100.8L305.2 100.4L304.1 100.2L302.9 99.2Z" fill="#5cd9a0"/>
<path d="M306.4 98.1L306.9 96.9L308.1 96.2L309.1 95.2L310.2 94.5L311.5 94.5L312.6 93.9L313.8 93.6L315.0 93.7L315.9 93.8L316.7 93.5L317.3 93.8L317.9 93.7L318.4 93.8L318.8 93.5L319.2 93.9L319.6 93.9L320.0 94.0L320.3 93.6L320.6 93.9L320.9 93.7L321.2 93.9L321.5 93.5L321.8 94.0L322.1 94.1L322.4 93.8L322.7 93.8L323.0 93.9L323.3 93.9L323.7 93.6L324.0 94.2L324.4 93.8L324.8 93.8L325.2 93.8L325.7 94.0L326.2 94.4L326.8 94.0L327.5 94.1L328.2 94.6L329.1 94.5L330.2 94.6L331.3 95.3L332.7 95.7L334.2 96.2L335.7 97.1L337.3 97.8L337.0 99.0L336.1 99.9L334.7 101.0L333.1 101.5L331.5 101.6L330.2 101.8L329.1 102.1L328.2 102.3L327.4 102.2L326.7 102.4L326.1 102.2L325.6 102.1L325.1 102.5L324.6 102.3L324.2 102.2L323.8 102.6L323.5 102.2L323.1 102.2L322.8 102.5L322.5 102.5L322.1 102.2L321.8 102.4L321.5 102.5L321.2 102.2L320.9 102.3L320.6 102.5L320.2 102.6L319.9 102.5L319.5 102.4L319.2 102.0L318.8 102.1L318.4 102.0L317.9 102.0L317.3 102.0L316.7 102.4L316.1 102.1L315.3 101.7L314.4 101.6L313.2 101.9L311.9 101.6L310.5 101.1L308.7 100.8L307.0 100.0L305.9 99.2Z" fill="#96e169"/>
<path d="M310.2 98.8L310.8 98.1L311.5 97.2L312.5 96.7L313.7 96.7L314.6 96.3L315.5 96.2L316.4 95.9L317.2 96.0L317.9 96.0L318.5 96.0L319.0 95.4L319.4 95.8L319.8 95.5L320.2 95.8L320.5 95.5L320.8 95.7L321.0 95.9L321.3 95.7L321.6 95.5L321.8 95.7L322.1 95.6L322.3 96.0L322.5 95.6L322.8 95.6L323.0 95.8L323.2 95.5L323.5 95.8L323.7 96.0L324.0 95.8L324.3 95.6L324.6 95.8L324.9 95.8L325.3 95.6L325.6 95.7L326.1 95.7L326.5 95.9L327.1 96.0L327.7 96.1L328.4 96.2L329.3 96.2L330.2 96.7L331.3 97.2L332.5 97.6L333.6 98.1L334.4 98.9L334.6 99.7L333.6 100.2L332.4 100.9L331.2 101.2L330.0 101.4L329.0 101.7L328.2 101.9L327.5 102.0L326.9 102.1L326.3 102.0L325.9 102.1L325.4 102.0L325.1 102.4L324.7 102.2L324.4 101.9L324.1 102.3L323.8 102.1L323.5 102.1L323.3 102.3L323.0 101.8L322.8 102.3L322.5 102.0L322.3 102.3L322.0 102.4L321.8 101.9L321.5 102.2L321.3 102.4L321.0 102.2L320.7 102.1L320.4 101.9L320.1 102.3L319.8 102.2L319.4 101.7L319.0 101.8L318.5 102.1L318.0 102.0L317.4 101.9L316.7 101.6L315.8 101.6L314.9 101.3L313.7 101.0L312.4 100.9L311.2 100.2L310.5 99.6Z" fill="#d4d044"/>
<path d="M314.7 99.9L314.8 99.4L315.5 99.2L316.2 98.9L317.0 98.8L317.6 98.2L318.3 98.5L318.8 98.0L319.4 98.4L319.8 98.2L320.2 98.2L320.5 98.4L320.8 98.2L321.0 98.1L321.3 98.3L321.5 98.3L321.7 98.2L321.9 98.0L322.1 98.1L322.3 98.1L322.4 98.2L322.6 98.0L322.8 98.0L322.9 98.1L323.1 98.0L323.2 98.0L323.4 98.3L323.6 98.3L323.8 98.1L323.9 98.1L324.2 98.0L324.4 98.0L324.6 98.0L324.8 98.2L325.1 98.2L325.4 98.0L325.7 98.5L326.2 98.2L326.6 98.5L327.1 98.6L327.7 98.8L328.5 98.5L329.3 98.8L330.0 99.3L330.9 99.2L331.4 99.8L330.9 100.3L330.4 100.7L329.5 100.7L328.7 101.0L328.0 101.2L327.3 101.1L326.8 101.4L326.3 101.5L325.9 101.4L325.5 101.6L325.2 101.7L324.9 101.5L324.6 101.7L324.4 101.3L324.2 101.5L324.0 101.6L323.8 101.9L323.6 101.7L323.4 101.7L323.2 101.6L323.1 101.6L322.9 101.4L322.8 101.4L322.6 101.6L322.4 101.7L322.2 101.6L322.1 101.3L321.9 101.7L321.7 101.6L321.5 101.4L321.3 101.8L321.0 101.7L320.8 101.3L320.5 101.4L320.2 101.5L319.8 101.7L319.4 101.2L318.9 101.3L318.4 101.2L317.8 101.0L317.0 100.9L316.1 101.0L315.2 100.8L314.6 100.4Z" fill="#ec962c"/>
<path d="M321.1 100.1L321.2 99.9L321.4 99.6L321.8 99.4L322.2 99.6L322.5 99.5L322.8 99.3L323.1 99.6L323.3 99.4L323.5 99.0L323.6 99.2L323.8 99.4L323.9 99.1L324.0 99.3L324.1 98.9L324.2 99.1L324.3 99.4L324.4 99.3L324.5 99.3L324.6 99.0L324.7 99.2L324.7 99.2L324.8 99.1L324.9 99.3L325.0 99.2L325.0 99.5L325.1 99.3L325.2 99.2L325.3 99.0L325.4 99.0L325.5 99.4L325.6 99.0L325.7 99.0L325.8 99.0L325.9 99.3L326.0 99.5L326.2 99.3L326.4 99.5L326.7 99.1L326.9 99.1L327.1 99.6L327.5 99.4L327.8 99.7L328.3 99.7L328.7 99.8L328.8 100.1L328.7 100.5L328.1 100.3L327.9 100.7L327.5 100.9L327.2 100.9L326.9 101.0L326.7 101.2L326.4 100.8L326.2 101.0L326.0 100.8L325.9 101.1L325.8 101.0L325.7 101.2L325.6 101.3L325.4 100.8L325.4 100.9L325.3 101.2L325.2 100.8L325.1 100.9L325.0 101.2L325.0 101.0L324.9 100.8L324.8 101.1L324.7 100.8L324.7 101.2L324.6 101.1L324.5 100.9L324.4 101.2L324.3 101.2L324.3 100.8L324.1 101.1L324.0 100.9L323.9 101.2L323.8 101.2L323.6 101.1L323.5 101.2L323.3 100.7L323.1 101.1L322.8 100.9L322.5 101.1L322.2 100.8L321.8 100.8L321.4 100.6L321.0 100.5Z" fill="#cf611c"/></g>
<path d="M327.50 18.00V114.50M271.85 62.50H367.85" stroke="#ff9f0a" stroke-width="0.85" stroke-opacity="0.66" fill="none"/>
<circle cx="306.84" cy="68.95" r="2.5" fill="#fff"/><circle cx="306.84" cy="68.95" r="2.1" fill="#fc0812"/>
<path d="M271.85 114.50v-3.20M271.85 18.00v3.20M282.52 114.50v-3.20M282.52 18.00v3.20M293.18 114.50v-3.20M293.18 18.00v3.20M303.85 114.50v-3.20M303.85 18.00v3.20M314.52 114.50v-3.20M314.52 18.00v3.20M325.18 114.50v-3.20M325.18 18.00v3.20M335.85 114.50v-3.20M335.85 18.00v3.20M346.52 114.50v-3.20M346.52 18.00v3.20M357.18 114.50v-3.20M357.18 18.00v3.20M367.85 114.50v-3.20M367.85 18.00v3.20M271.85 114.50h3.20M367.85 114.50h-3.20M271.85 95.20h3.20M367.85 95.20h-3.20M271.85 75.90h3.20M367.85 75.90h-3.20M271.85 56.60h3.20M367.85 56.60h-3.20M271.85 37.30h3.20M367.85 37.30h-3.20M271.85 18.00h3.20M367.85 18.00h-3.20" stroke="#555" stroke-width="0.7" fill="none"/>
<rect x="271.85" y="18.00" width="96.00" height="96.50" fill="none" stroke="#747474" stroke-width="0.8"/>
<text x="271.85" y="121.10" font-size="5.5" text-anchor="middle" fill="#3c3c3c">6</text>
<text x="282.52" y="121.10" font-size="5.5" text-anchor="middle" fill="#3c3c3c">7</text>
<text x="293.18" y="121.10" font-size="5.5" text-anchor="middle" fill="#3c3c3c">8</text>
<text x="303.85" y="121.10" font-size="5.5" text-anchor="middle" fill="#3c3c3c">9</text>
<text x="314.52" y="121.10" font-size="5.5" text-anchor="middle" fill="#3c3c3c">10</text>
<text x="325.18" y="121.10" font-size="5.5" text-anchor="middle" fill="#3c3c3c">11</text>
<text x="335.85" y="121.10" font-size="5.5" text-anchor="middle" fill="#3c3c3c">12</text>
<text x="346.52" y="121.10" font-size="5.5" text-anchor="middle" fill="#3c3c3c">13</text>
<text x="357.18" y="121.10" font-size="5.5" text-anchor="middle" fill="#3c3c3c">14</text>
<text x="367.85" y="121.10" font-size="5.5" text-anchor="middle" fill="#3c3c3c">15</text>
<text x="269.85" y="116.50" font-size="5.5" text-anchor="end" fill="#3c3c3c">200</text>
<text x="269.85" y="97.20" font-size="5.5" text-anchor="end" fill="#3c3c3c">250</text>
<text x="269.85" y="77.90" font-size="5.5" text-anchor="end" fill="#3c3c3c">300</text>
<text x="269.85" y="58.60" font-size="5.5" text-anchor="end" fill="#3c3c3c">350</text>
<text x="269.85" y="39.30" font-size="5.5" text-anchor="end" fill="#3c3c3c">400</text>
<text x="269.85" y="20.00" font-size="5.5" text-anchor="end" fill="#3c3c3c">450</text>
<text x="291.05" y="128.40" font-size="6.0" textLength="57.6" lengthAdjust="spacingAndGlyphs" fill="#1c1c1c" stroke="#1c1c1c" stroke-width="0.12">Methane Lifetime /yrs</text>
<text transform="translate(258.05 66.25) rotate(-90)" x="-34.50" font-size="6.35" textLength="69.0" lengthAdjust="spacingAndGlyphs" fill="#1c1c1c" stroke="#1c1c1c" stroke-width="0.12">Global Ozone Burden /Tg</text>
<text x="269.45" y="11.2" font-size="8.2" textLength="10.4" lengthAdjust="spacingAndGlyphs" fill="#1c1c1c" stroke="#1c1c1c" stroke-width="0.12">(c)</text>
<text x="320.05" y="11.1" font-size="6.93" text-anchor="middle" fill="#1c1c1c" stroke="#1c1c1c" stroke-width="0.1">Constrained (surface)</text>
<clipPath id="c03"><rect x="395.85" y="18.00" width="96.00" height="96.50"/></clipPath>
<path d="M395.85 18.00V114.50M406.52 18.00V114.50M417.18 18.00V114.50M427.85 18.00V114.50M438.52 18.00V114.50M449.18 18.00V114.50M459.85 18.00V114.50M470.52 18.00V114.50M481.18 18.00V114.50M491.85 18.00V114.50M395.85 114.50H491.85M395.85 95.20H491.85M395.85 75.90H491.85M395.85 56.60H491.85M395.85 37.30H491.85M395.85 18.00H491.85" stroke="#f0f0f0" stroke-width="0.6" fill="none"/>
<g clip-path="url(#c03)"><path d="M411.4 69.4C411.4 69.2 412.9 69.1 414.0 68.9C415.1 68.7 416.7 68.5 418.0 68.3C419.3 68.1 420.7 68.0 422.0 67.9C423.3 67.8 424.7 67.7 426.0 67.6C427.3 67.5 428.8 67.5 430.0 67.5C431.2 67.5 432.3 67.6 433.0 67.8C433.7 68.0 434.2 68.2 434.2 68.4C434.2 68.6 433.7 69.0 433.0 69.2C432.3 69.4 431.2 69.6 430.0 69.8C428.8 70.0 427.3 70.1 426.0 70.2C424.7 70.3 423.3 70.4 422.0 70.4C420.7 70.4 419.3 70.4 418.0 70.3C416.7 70.2 415.1 70.2 414.0 70.0C412.9 69.8 411.4 69.6 411.4 69.4Z" fill="#6f6284"/>
<path d="M412.7 69.4C412.7 69.2 414.0 69.1 415.0 68.9C416.0 68.8 417.3 68.6 418.5 68.4C419.7 68.3 420.9 68.2 422.0 68.1C423.2 68.0 424.4 67.9 425.5 67.8C426.7 67.8 428.0 67.7 429.1 67.7C430.1 67.8 431.1 67.9 431.7 68.0C432.3 68.1 432.8 68.3 432.8 68.5C432.8 68.7 432.3 69.0 431.7 69.2C431.1 69.4 430.1 69.6 429.1 69.7C428.0 69.8 426.7 69.9 425.5 70.0C424.4 70.1 423.2 70.2 422.0 70.2C420.9 70.2 419.7 70.2 418.5 70.1C417.3 70.1 416.0 70.0 415.0 69.9C414.0 69.7 412.7 69.5 412.7 69.4Z" fill="#555fa0"/>
<path d="M413.8 69.3C413.8 69.2 415.0 69.1 415.8 69.0C416.7 68.8 417.9 68.6 418.9 68.5C420.0 68.4 421.0 68.3 422.1 68.2C423.1 68.2 424.1 68.1 425.2 68.0C426.2 68.0 427.4 67.9 428.3 67.9C429.2 68.0 430.1 68.1 430.6 68.2C431.2 68.3 431.6 68.4 431.6 68.6C431.6 68.8 431.2 69.0 430.6 69.2C430.1 69.3 429.2 69.5 428.3 69.6C427.4 69.7 426.2 69.8 425.2 69.9C424.1 70.0 423.1 70.0 422.1 70.0C421.0 70.0 420.0 70.0 418.9 70.0C417.9 69.9 416.7 69.9 415.8 69.7C415.0 69.6 413.8 69.4 413.8 69.3Z" fill="#4682cd"/>
<path d="M414.9 69.3C414.9 69.2 415.9 69.1 416.6 69.0C417.4 68.9 418.5 68.7 419.4 68.6C420.3 68.5 421.2 68.4 422.1 68.4C423.0 68.3 423.9 68.2 424.8 68.2C425.7 68.2 426.7 68.1 427.5 68.1C428.3 68.2 429.1 68.2 429.6 68.3C430.0 68.4 430.4 68.5 430.4 68.7C430.4 68.8 430.0 69.0 429.6 69.2C429.1 69.3 428.3 69.4 427.5 69.5C426.7 69.6 425.7 69.7 424.8 69.8C423.9 69.8 423.0 69.9 422.1 69.9C421.2 69.9 420.3 69.9 419.4 69.8C418.5 69.8 417.4 69.7 416.6 69.6C415.9 69.5 414.9 69.4 414.9 69.3Z" fill="#4bb4d2"/>
<path d="M416.0 69.2C416.0 69.2 416.8 69.1 417.5 69.0C418.1 68.9 419.0 68.8 419.8 68.7C420.6 68.6 421.3 68.6 422.1 68.5C422.9 68.4 423.7 68.4 424.4 68.3C425.2 68.3 426.1 68.3 426.8 68.3C427.4 68.3 428.1 68.4 428.5 68.4C428.9 68.5 429.2 68.6 429.2 68.8C429.2 68.9 428.9 69.0 428.5 69.2C428.1 69.3 427.4 69.4 426.8 69.4C426.1 69.5 425.2 69.6 424.4 69.7C423.7 69.7 422.9 69.7 422.1 69.8C421.3 69.8 420.6 69.7 419.8 69.7C419.0 69.7 418.1 69.6 417.5 69.5C416.8 69.5 416.0 69.3 416.0 69.2Z" fill="#5cd9a0"/>
<path d="M417.1 69.2C417.1 69.1 417.8 69.1 418.3 69.0C418.8 68.9 419.6 68.8 420.2 68.8C420.9 68.7 421.5 68.7 422.2 68.6C422.8 68.6 423.4 68.5 424.1 68.5C424.7 68.5 425.4 68.4 426.0 68.5C426.6 68.5 427.1 68.5 427.4 68.6C427.8 68.6 428.0 68.7 428.0 68.8C428.0 68.9 427.8 69.0 427.4 69.1C427.1 69.2 426.6 69.3 426.0 69.4C425.4 69.4 424.7 69.5 424.1 69.5C423.4 69.6 422.8 69.6 422.2 69.6C421.5 69.6 420.9 69.6 420.2 69.6C419.6 69.6 418.8 69.5 418.3 69.5C417.8 69.4 417.1 69.3 417.1 69.2Z" fill="#96e169"/>
<path d="M418.2 69.2C418.2 69.1 418.7 69.1 419.2 69.0C419.6 69.0 420.2 68.9 420.7 68.9C421.2 68.8 421.7 68.8 422.2 68.7C422.7 68.7 423.2 68.7 423.7 68.6C424.2 68.6 424.8 68.6 425.2 68.6C425.7 68.6 426.1 68.7 426.4 68.7C426.6 68.8 426.8 68.8 426.8 68.9C426.8 69.0 426.6 69.1 426.4 69.1C426.1 69.2 425.7 69.3 425.2 69.3C424.8 69.4 424.2 69.4 423.7 69.4C423.2 69.5 422.7 69.5 422.2 69.5C421.7 69.5 421.2 69.5 420.7 69.5C420.2 69.4 419.6 69.4 419.2 69.4C418.7 69.3 418.2 69.2 418.2 69.2Z" fill="#d4d044"/>
<path d="M419.6 69.2C419.6 69.1 420.0 69.1 420.3 69.1C420.5 69.0 420.9 69.0 421.3 68.9C421.6 68.9 421.9 68.9 422.3 68.9C422.6 68.8 422.9 68.8 423.3 68.8C423.6 68.8 424.0 68.8 424.3 68.8C424.6 68.8 424.8 68.8 425.0 68.8C425.2 68.9 425.3 68.9 425.3 69.0C425.3 69.0 425.2 69.1 425.0 69.1C424.8 69.2 424.6 69.2 424.3 69.2C424.0 69.3 423.6 69.3 423.3 69.3C422.9 69.3 422.6 69.4 422.3 69.4C421.9 69.4 421.6 69.4 421.3 69.3C420.9 69.3 420.5 69.3 420.3 69.3C420.0 69.2 419.6 69.2 419.6 69.2Z" fill="#ec962c"/>
<path d="M421.3 69.1C421.3 69.1 421.4 69.1 421.5 69.1C421.7 69.1 421.8 69.0 421.9 69.0C422.1 69.0 422.2 69.0 422.3 69.0C422.5 69.0 422.6 69.0 422.7 69.0C422.9 69.0 423.0 69.0 423.1 69.0C423.3 69.0 423.4 69.0 423.4 69.0C423.5 69.0 423.6 69.0 423.6 69.0C423.6 69.1 423.5 69.1 423.4 69.1C423.4 69.1 423.3 69.1 423.1 69.2C423.0 69.2 422.9 69.2 422.7 69.2C422.6 69.2 422.5 69.2 422.3 69.2C422.2 69.2 422.1 69.2 421.9 69.2C421.8 69.2 421.7 69.2 421.5 69.2C421.4 69.2 421.3 69.1 421.3 69.1Z" fill="#cf611c"/></g>
<path d="M451.50 18.00V114.50M395.85 62.50H491.85" stroke="#ff9f0a" stroke-width="0.85" stroke-opacity="0.66" fill="none"/>
<circle cx="430.84" cy="68.95" r="2.5" fill="#fff"/><circle cx="430.84" cy="68.95" r="2.1" fill="#fc0812"/>
<path d="M395.85 114.50v-3.20M395.85 18.00v3.20M406.52 114.50v-3.20M406.52 18.00v3.20M417.18 114.50v-3.20M417.18 18.00v3.20M427.85 114.50v-3.20M427.85 18.00v3.20M438.52 114.50v-3.20M438.52 18.00v3.20M449.18 114.50v-3.20M449.18 18.00v3.20M459.85 114.50v-3.20M459.85 18.00v3.20M470.52 114.50v-3.20M470.52 18.00v3.20M481.18 114.50v-3.20M481.18 18.00v3.20M491.85 114.50v-3.20M491.85 18.00v3.20M395.85 114.50h3.20M491.85 114.50h-3.20M395.85 95.20h3.20M491.85 95.20h-3.20M395.85 75.90h3.20M491.85 75.90h-3.20M395.85 56.60h3.20M491.85 56.60h-3.20M395.85 37.30h3.20M491.85 37.30h-3.20M395.85 18.00h3.20M491.85 18.00h-3.20" stroke="#555" stroke-width="0.7" fill="none"/>
<rect x="395.85" y="18.00" width="96.00" height="96.50" fill="none" stroke="#747474" stroke-width="0.8"/>
<text x="395.85" y="121.10" font-size="5.5" text-anchor="middle" fill="#3c3c3c">6</text>
<text x="406.52" y="121.10" font-size="5.5" text-anchor="middle" fill="#3c3c3c">7</text>
<text x="417.18" y="121.10" font-size="5.5" text-anchor="middle" fill="#3c3c3c">8</text>
<text x="427.85" y="121.10" font-size="5.5" text-anchor="middle" fill="#3c3c3c">9</text>
<text x="438.52" y="121.10" font-size="5.5" text-anchor="middle" fill="#3c3c3c">10</text>
<text x="449.18" y="121.10" font-size="5.5" text-anchor="middle" fill="#3c3c3c">11</text>
<text x="459.85" y="121.10" font-size="5.5" text-anchor="middle" fill="#3c3c3c">12</text>
<text x="470.52" y="121.10" font-size="5.5" text-anchor="middle" fill="#3c3c3c">13</text>
<text x="481.18" y="121.10" font-size="5.5" text-anchor="middle" fill="#3c3c3c">14</text>
<text x="491.85" y="121.10" font-size="5.5" text-anchor="middle" fill="#3c3c3c">15</text>
<text x="393.85" y="116.50" font-size="5.5" text-anchor="end" fill="#3c3c3c">200</text>
<text x="393.85" y="97.20" font-size="5.5" text-anchor="end" fill="#3c3c3c">250</text>
<text x="393.85" y="77.90" font-size="5.5" text-anchor="end" fill="#3c3c3c">300</text>
<text x="393.85" y="58.60" font-size="5.5" text-anchor="end" fill="#3c3c3c">350</text>
<text x="393.85" y="39.30" font-size="5.5" text-anchor="end" fill="#3c3c3c">400</text>
<text x="393.85" y="20.00" font-size="5.5" text-anchor="end" fill="#3c3c3c">450</text>
<text x="415.05" y="128.40" font-size="6.0" textLength="57.6" lengthAdjust="spacingAndGlyphs" fill="#1c1c1c" stroke="#1c1c1c" stroke-width="0.12">Methane Lifetime /yrs</text>
<text transform="translate(382.05 66.25) rotate(-90)" x="-34.50" font-size="6.35" textLength="69.0" lengthAdjust="spacingAndGlyphs" fill="#1c1c1c" stroke="#1c1c1c" stroke-width="0.12">Global Ozone Burden /Tg</text>
<text x="393.45" y="11.2" font-size="8.2" textLength="10.4" lengthAdjust="spacingAndGlyphs" fill="#1c1c1c" stroke="#1c1c1c" stroke-width="0.12">(d)</text>
<text x="444.05" y="11.1" font-size="6.93" text-anchor="middle" fill="#1c1c1c" stroke="#1c1c1c" stroke-width="0.1">Constrained (all)</text>
<linearGradient id="g0" x1="0" y1="1" x2="0" y2="0"><stop offset="0.000" stop-color="#41254b"/><stop offset="0.083" stop-color="#525cc0"/><stop offset="0.167" stop-color="#558ffa"/><stop offset="0.250" stop-color="#3ac1ed"/><stop offset="0.333" stop-color="#2de7bc"/><stop offset="0.417" stop-color="#63fb81"/><stop offset="0.500" stop-color="#abfd4b"/><stop offset="0.583" stop-color="#dce646"/><stop offset="0.667" stop-color="#fac048"/><stop offset="0.750" stop-color="#fb8833"/><stop offset="0.833" stop-color="#e6541e"/><stop offset="0.917" stop-color="#bf3016"/><stop offset="1.000" stop-color="#851817"/></linearGradient>
<rect x="467.25" y="82.10" width="4.80" height="25.00" fill="url(#g0)"/>
<text x="476.95" y="83.80" font-size="5.0" fill="#1c1c1c">1.00</text>
<text x="476.95" y="90.72" font-size="5.0" fill="#1c1c1c">0.75</text>
<text x="476.95" y="97.64" font-size="5.0" fill="#1c1c1c">0.50</text>
<text x="476.95" y="104.56" font-size="5.0" fill="#1c1c1c">0.25</text>
<clipPath id="c10"><rect x="23.85" y="139.50" width="96.00" height="98.00"/></clipPath>
<path d="M33.45 139.50V237.50M45.45 139.50V237.50M57.45 139.50V237.50M69.45 139.50V237.50M81.45 139.50V237.50M93.45 139.50V237.50M105.45 139.50V237.50M117.45 139.50V237.50M23.85 235.54H119.85M23.85 223.29H119.85M23.85 211.04H119.85M23.85 198.79H119.85M23.85 186.54H119.85M23.85 174.29H119.85M23.85 162.04H119.85M23.85 149.79H119.85" stroke="#f0f0f0" stroke-width="0.6" fill="none"/>
<g clip-path="url(#c10)"><path d="M55.4 191.4L56.8 190.5L57.4 189.2L58.2 188.1L58.9 187.1L59.7 186.2L60.3 185.3L61.0 184.4L62.0 184.0L62.5 183.1L63.1 182.2L64.1 181.8L64.4 180.8L65.2 180.1L66.1 179.6L66.5 178.5L67.4 177.9L68.3 177.3L69.1 176.5L69.7 175.3L70.7 174.5L71.8 173.7L72.7 172.4L74.2 171.6L75.2 170.0L77.0 169.0L77.6 168.0L78.4 167.0L79.5 166.2L80.4 165.1L81.7 164.5L82.8 163.2L84.3 162.6L85.6 161.4L86.5 160.7L87.5 160.0L88.6 159.6L89.6 158.8L90.8 158.7L91.8 157.8L93.0 157.7L94.1 157.3L95.2 156.9L96.5 157.0L97.6 156.5L98.8 156.6L100.0 156.4L101.1 156.2L102.3 156.4L104.0 156.5L105.4 157.1L106.7 158.2L108.0 159.0L107.9 160.3L108.1 161.8L107.5 163.3L107.2 164.9L106.6 166.5L106.2 168.0L106.0 169.4L105.4 170.6L105.1 171.9L104.6 173.2L103.8 174.2L103.5 175.5L102.7 177.0L101.6 178.4L100.9 179.8L100.1 181.1L99.4 182.3L99.0 183.8L98.1 184.8L97.5 185.9L96.5 186.6L95.8 187.4L94.7 189.1L93.5 190.5L92.2 191.5L91.1 192.5L90.4 193.7L89.3 194.2L88.8 195.3L87.9 195.9L87.5 196.7L86.9 197.4L85.9 197.7L85.5 198.4L84.9 199.0L84.7 199.9L84.2 200.5L83.6 201.0L83.0 201.6L82.4 202.2L81.8 202.8L81.4 203.7L80.6 204.2L79.7 204.8L79.2 205.8L78.1 206.4L77.4 207.4L76.3 208.4L75.4 209.7L74.1 211.0L72.5 212.3L71.8 213.2L71.1 214.1L69.8 214.4L68.8 215.3L67.9 216.5L66.8 217.6L65.5 217.9L64.7 218.7L63.9 219.9L62.7 220.7L61.5 221.8L59.8 222.6L59.2 223.6L57.9 224.1L56.9 225.1L56.2 226.3L54.9 226.7L53.7 227.7L52.3 228.3L50.9 229.0L49.9 229.9L48.4 230.4L46.9 230.0L45.6 230.3L44.1 229.5L42.7 228.8L41.7 227.5L41.1 226.0L40.7 224.8L40.6 223.4L40.4 221.9L41.0 220.5L41.2 219.0L41.6 217.5L42.3 216.1L42.3 214.5L43.2 213.2L43.2 211.7L44.2 210.6L44.8 209.4L45.0 208.1L45.7 207.0L46.5 206.1L47.0 204.5L47.6 203.1L48.2 201.7L48.8 200.3L49.8 199.3L50.5 198.2L51.1 197.1L51.9 196.2L52.4 195.2L53.4 194.6L54.6 193.0Z" fill="#6f6284"/>
<path d="M57.9 191.5L58.8 190.4L59.7 189.6L60.4 188.6L61.3 188.0L61.6 186.9L62.2 186.2L63.1 185.7L63.4 184.7L64.2 184.3L64.7 183.5L65.5 183.1L66.0 182.4L66.6 181.8L66.9 180.9L67.8 180.5L68.4 179.8L69.0 179.0L69.8 178.5L70.6 177.8L71.0 176.7L72.0 175.9L72.9 175.0L73.9 174.0L75.0 172.9L76.4 171.8L77.8 170.4L78.9 169.9L79.6 169.0L80.4 168.0L81.6 167.3L82.8 166.5L83.9 165.6L85.1 164.7L86.4 163.9L87.8 163.1L89.5 163.1L90.9 162.4L92.3 161.5L93.9 161.7L95.5 161.6L97.0 161.2L98.6 160.8L100.0 161.4L101.3 161.8L102.7 162.1L103.5 163.2L104.1 164.2L103.4 165.4L103.4 166.8L103.1 168.1L102.5 169.4L102.3 170.7L102.2 171.9L101.9 173.1L101.6 174.2L101.0 175.8L99.9 177.2L99.2 178.5L98.8 180.1L98.2 181.3L97.2 182.4L96.4 183.4L95.7 184.4L95.5 185.6L94.4 186.3L93.2 187.8L92.1 189.2L91.3 190.6L90.3 191.7L89.1 192.3L88.5 193.4L87.8 194.2L87.1 194.8L86.5 195.5L85.7 195.9L85.5 196.7L85.0 197.4L84.3 197.7L83.7 198.2L83.2 198.6L82.8 199.2L82.2 199.6L81.7 200.1L81.4 200.9L80.9 201.5L80.5 202.2L79.9 202.8L79.1 203.3L78.7 204.2L77.7 204.6L77.2 205.7L76.2 206.4L74.9 207.1L74.3 208.7L73.0 210.0L71.3 211.0L70.6 211.8L69.5 212.2L68.9 213.4L67.4 213.8L66.3 214.7L65.0 215.7L64.2 216.7L63.2 217.6L61.8 218.4L60.9 219.3L59.9 220.2L58.9 221.1L57.7 221.9L56.6 222.4L55.4 223.0L54.3 223.6L53.4 224.5L52.1 224.8L50.8 224.8L49.7 224.7L48.2 224.5L46.9 223.9L45.8 222.9L45.2 221.5L45.0 219.8L45.3 218.0L45.4 216.8L45.6 215.5L46.0 214.3L46.3 213.0L46.5 211.7L47.1 210.6L47.0 209.2L47.9 208.2L48.3 207.2L48.8 205.5L49.7 204.2L50.6 203.0L50.9 201.6L51.7 200.5L52.1 199.3L52.8 198.3L53.8 197.5L53.9 196.3L54.6 195.5L56.1 194.2L57.0 192.8Z" fill="#555fa0"/>
<path d="M59.9 191.4L60.9 190.7L61.5 189.7L62.2 189.1L62.7 188.3L63.3 187.6L63.9 187.0L64.4 186.3L64.8 185.6L65.3 185.0L66.2 184.8L66.6 184.1L66.8 183.4L67.7 183.2L67.9 182.3L68.4 181.7L69.1 181.3L69.6 180.6L70.3 180.1L71.0 179.6L71.5 178.7L72.4 178.2L73.0 177.2L74.1 176.6L75.1 175.7L76.0 174.4L77.4 173.5L78.7 172.0L79.7 171.5L80.8 171.0L81.6 170.1L82.7 169.5L83.8 168.9L84.7 167.8L86.1 167.7L87.3 167.0L88.4 166.1L89.9 166.2L91.2 165.6L92.5 165.2L94.0 165.6L95.3 165.2L96.5 165.5L97.8 165.4L98.8 166.3L100.1 166.7L100.2 168.2L100.0 169.8L99.9 171.6L99.0 173.1L98.9 174.7L98.4 176.1L97.5 177.5L97.1 178.9L96.2 180.0L95.8 181.3L95.0 182.3L94.6 183.4L93.8 184.3L93.2 185.2L92.4 187.1L91.0 188.3L90.3 189.7L89.1 190.5L88.3 191.5L87.4 192.2L87.0 193.3L86.3 193.9L85.5 194.3L84.9 194.8L84.5 195.4L84.3 196.2L83.6 196.5L83.4 197.2L82.7 197.4L82.1 197.8L82.1 198.6L81.2 198.7L80.9 199.2L80.7 199.9L80.3 200.5L79.6 200.8L78.9 201.2L78.5 201.9L78.2 202.7L77.6 203.4L76.9 204.0L75.8 204.4L75.2 205.6L74.1 206.4L73.1 207.5L71.6 208.4L70.3 209.7L69.5 210.5L68.3 210.8L67.4 211.8L66.2 212.6L64.9 213.5L63.4 214.6L62.7 216.0L61.4 216.8L60.2 217.8L58.8 218.3L57.4 218.8L56.3 219.4L54.7 220.3L53.2 220.3L51.9 219.6L50.8 219.2L49.8 218.6L49.2 217.5L48.6 216.2L49.0 214.6L48.9 213.0L49.5 211.4L49.8 209.8L50.0 208.0L50.7 206.6L51.3 205.1L52.3 204.0L52.7 202.6L53.0 201.3L53.6 200.3L54.4 199.3L55.0 198.4L56.2 196.7L57.2 195.1L58.2 193.7L59.0 192.4Z" fill="#4682cd"/>
<path d="M61.5 191.6L62.1 190.7L62.6 189.8L63.4 189.3L64.2 188.8L64.2 187.8L64.8 187.2L65.5 186.9L65.8 186.2L66.3 185.7L66.9 185.4L67.2 184.8L67.8 184.4L68.3 183.9L68.9 183.6L69.4 183.1L69.5 182.2L70.2 181.9L70.9 181.5L71.5 181.0L72.1 180.4L72.7 179.7L73.4 179.0L74.0 178.1L74.9 177.3L76.1 176.7L77.3 175.7L78.6 174.7L80.0 173.3L80.7 172.5L81.7 172.1L82.7 171.5L83.6 170.8L84.7 170.3L85.7 169.6L86.9 169.3L88.1 168.8L89.2 168.2L90.5 168.1L91.8 167.9L93.1 168.3L94.3 168.1L95.4 168.2L96.5 168.5L97.4 169.2L97.6 170.4L97.7 171.9L97.6 173.4L96.6 174.7L96.6 176.1L96.2 177.4L95.6 178.7L95.2 180.0L94.8 181.2L94.3 182.3L93.6 183.3L93.0 184.2L91.6 185.8L90.6 187.3L89.4 188.5L88.9 189.8L87.7 190.5L87.1 191.5L86.6 192.5L85.9 193.1L85.2 193.6L84.4 193.9L84.2 194.8L83.6 195.0L83.3 195.7L82.6 195.9L82.6 196.7L82.0 197.0L81.4 197.2L81.3 197.9L80.9 198.3L80.7 198.9L80.2 199.2L79.7 199.6L79.0 199.9L78.8 200.6L78.2 201.0L77.8 201.7L77.0 202.0L76.3 202.5L75.7 203.3L75.1 204.2L74.0 204.8L72.9 205.6L71.9 206.7L70.8 208.0L68.9 208.9L68.0 209.5L67.2 210.5L66.2 211.5L64.9 212.5L63.8 213.0L62.6 213.6L61.6 214.5L60.5 215.0L59.6 216.0L58.5 216.4L56.9 216.5L55.6 216.7L54.4 216.7L53.4 216.1L52.4 215.7L51.5 214.9L51.4 213.6L51.0 212.3L51.5 210.9L51.6 209.4L52.1 208.0L52.6 206.6L52.9 205.1L53.6 203.9L53.9 202.5L55.0 201.7L55.3 200.5L56.1 199.7L56.1 198.4L57.0 197.7L58.1 196.2L58.9 194.7L59.7 193.4L60.5 192.3Z" fill="#4bb4d2"/>
<path d="M62.6 191.4L63.6 190.9L63.8 189.9L64.7 189.6L65.0 188.9L65.5 188.4L66.0 187.9L66.4 187.4L66.9 187.0L67.3 186.5L67.6 185.9L68.2 185.7L68.4 185.0L69.0 184.8L69.4 184.4L69.9 184.0L70.1 183.3L70.8 183.1L71.4 182.7L71.6 182.0L72.1 181.4L72.8 180.9L73.6 180.5L74.0 179.5L74.7 178.7L75.8 178.2L76.8 177.5L78.0 176.6L79.2 175.3L81.0 174.5L82.4 173.0L83.5 172.8L84.3 172.0L85.4 171.5L86.5 171.2L87.6 170.8L88.8 170.8L89.9 170.6L91.1 170.3L92.1 170.8L93.2 170.6L95.1 171.4L95.4 172.5L95.1 173.7L94.8 174.9L95.1 176.3L94.9 177.6L94.0 178.6L93.9 179.9L93.0 180.8L92.8 182.0L92.2 183.0L91.3 184.9L90.0 186.3L89.2 187.7L88.4 189.0L87.3 189.7L87.0 191.0L85.9 191.4L85.6 192.5L84.7 192.8L84.3 193.5L83.6 193.8L83.5 194.6L82.9 194.8L82.5 195.3L81.9 195.5L81.5 195.9L81.3 196.4L81.1 197.0L80.7 197.4L80.4 197.8L79.9 198.1L79.6 198.5L79.2 199.0L78.6 199.1L78.2 199.6L77.9 200.2L77.1 200.3L76.9 201.2L76.2 201.6L75.8 202.4L74.7 202.7L73.9 203.4L73.3 204.5L72.1 205.1L70.9 206.0L69.7 207.3L68.0 208.5L66.9 209.2L65.6 209.8L64.7 211.2L63.1 211.8L61.7 212.7L60.3 213.4L59.0 213.7L57.8 213.6L56.6 214.0L55.8 213.3L54.1 212.3L54.0 211.2L53.9 210.2L53.5 208.9L54.2 207.7L54.6 206.5L54.5 205.1L54.8 203.8L55.4 202.6L56.4 201.8L56.3 200.4L57.4 199.8L57.4 198.6L58.8 197.2L59.4 195.5L60.3 194.3L61.4 193.4L61.9 192.2Z" fill="#5cd9a0"/>
<path d="M64.0 191.5L64.9 191.1L65.3 190.4L65.8 189.9L66.3 189.4L66.2 188.5L66.8 188.1L67.4 188.0L67.8 187.5L67.8 186.8L68.4 186.6L68.7 186.1L69.1 185.9L69.3 185.3L69.7 184.9L70.5 185.0L70.6 184.3L71.3 184.2L71.3 183.4L72.0 183.1L72.3 182.5L72.9 182.2L73.4 181.5L74.2 181.2L74.7 180.4L75.7 180.0L76.5 179.2L77.3 178.1L78.6 177.3L80.0 176.5L81.6 175.8L83.1 174.6L85.0 173.7L87.1 173.6L88.1 173.4L89.1 173.1L91.0 173.0L92.8 173.7L93.2 175.6L93.2 176.7L93.1 177.9L92.5 178.9L92.3 180.0L91.8 181.0L91.5 182.1L90.7 184.0L89.4 185.4L88.5 186.8L87.7 188.1L86.9 189.1L86.1 190.0L85.2 190.6L84.7 191.4L84.2 192.1L83.8 192.8L83.4 193.3L82.9 193.7L82.2 193.9L82.1 194.6L81.7 195.0L81.4 195.3L81.1 195.8L80.4 195.8L80.5 196.6L79.9 196.6L79.4 196.8L79.4 197.5L78.9 197.7L78.7 198.1L78.4 198.6L78.0 199.0L77.6 199.4L76.8 199.5L76.4 199.9L75.8 200.3L75.7 201.3L74.7 201.5L74.2 202.4L73.3 202.9L72.4 203.7L71.5 204.6L69.9 205.1L68.9 206.7L67.7 206.9L66.7 207.6L65.7 208.6L64.5 209.3L63.2 209.7L62.2 210.8L60.9 210.8L59.9 210.9L57.9 210.9L56.7 209.7L55.9 208.1L56.0 207.0L56.2 205.9L56.5 204.8L56.6 203.6L57.2 202.6L57.6 201.5L57.9 200.4L58.6 199.6L59.3 197.8L60.6 196.6L61.2 195.2L62.2 194.2L62.8 193.2L63.5 192.3Z" fill="#96e169"/>
<path d="M65.3 191.4L65.8 190.8L66.6 190.6L66.8 190.0L67.2 189.5L67.6 189.1L68.1 188.9L68.1 188.2L68.4 187.8L69.1 187.8L69.2 187.3L69.7 187.1L70.1 186.8L70.4 186.6L70.7 186.2L70.6 185.5L71.1 185.3L71.7 185.2L72.1 184.9L72.1 184.1L72.6 183.8L73.1 183.4L73.5 182.9L74.1 182.6L74.9 182.3L75.4 181.6L76.1 181.0L76.8 180.1L77.9 179.5L79.3 179.1L80.4 178.1L81.8 177.2L83.4 176.5L85.2 176.2L87.0 175.8L88.7 175.4L90.0 176.3L90.6 177.7L90.4 179.5L90.1 181.5L89.3 183.2L88.5 184.9L87.7 186.3L87.1 187.7L86.2 188.7L85.3 189.4L84.9 190.4L84.3 191.1L83.4 191.4L83.2 192.2L82.7 192.7L82.3 193.1L81.6 193.3L81.6 194.0L81.0 194.1L80.6 194.3L80.6 195.0L80.2 195.2L79.7 195.3L79.5 195.7L79.3 196.1L79.2 196.6L78.7 196.7L78.4 197.0L77.9 197.1L77.8 197.7L77.4 197.9L77.0 198.1L76.5 198.4L76.3 199.0L75.8 199.4L75.3 199.8L74.6 200.1L74.3 201.0L73.3 201.1L72.6 201.9L71.8 202.8L70.7 203.4L69.5 204.4L68.1 205.7L66.9 205.9L66.1 206.7L65.0 207.2L64.0 207.7L62.0 207.8L60.4 207.8L58.9 207.4L58.6 205.8L58.6 204.0L59.1 202.0L60.0 200.3L60.6 198.5L61.4 197.1L62.5 195.9L63.0 194.7L63.7 193.7L64.4 192.9L65.1 192.3Z" fill="#d4d044"/>
<path d="M67.5 191.6L68.0 191.2L68.1 190.6L68.3 190.1L68.9 190.1L69.1 189.7L69.5 189.5L69.8 189.2L69.7 188.6L70.0 188.4L70.2 188.1L70.8 188.2L70.7 187.6L71.0 187.3L71.5 187.4L71.7 187.1L71.7 186.6L72.3 186.6L72.6 186.4L72.8 186.0L72.9 185.5L73.5 185.5L73.8 185.1L74.3 184.8L74.9 184.7L75.3 184.2L75.9 183.7L76.2 182.8L77.0 182.4L77.9 181.9L78.7 181.0L80.2 181.0L81.2 180.0L82.6 179.5L84.0 179.2L85.4 179.1L86.4 179.8L87.0 180.7L87.0 182.1L86.7 183.5L86.4 185.0L85.6 186.3L84.6 187.2L84.0 188.2L83.4 189.0L83.1 190.0L82.7 190.6L82.3 191.3L81.6 191.5L81.3 192.0L80.9 192.4L80.6 192.7L80.2 193.0L80.0 193.4L79.5 193.5L79.6 194.0L79.0 193.9L78.9 194.4L78.9 194.9L78.6 195.0L78.2 195.1L78.0 195.4L77.7 195.5L77.6 195.9L77.4 196.2L76.9 196.1L76.8 196.6L76.3 196.7L76.0 196.9L75.8 197.3L75.5 197.7L74.9 197.8L74.7 198.4L74.0 198.6L73.8 199.5L73.1 199.7L72.3 200.1L71.7 201.0L70.4 201.2L69.6 202.4L68.0 202.9L66.6 203.9L65.0 203.8L63.7 204.0L62.8 203.4L62.1 202.6L62.2 201.2L62.5 199.8L62.8 198.2L63.4 196.9L64.5 196.0L64.7 194.7L65.7 194.2L65.9 193.1L66.3 192.4L66.8 191.9Z" fill="#ec962c"/>
<path d="M70.2 191.7L70.6 191.5L70.5 191.0L70.8 190.8L70.8 190.4L71.3 190.6L71.4 190.3L71.3 189.8L71.4 189.6L71.9 189.8L71.7 189.3L72.3 189.6L72.1 189.1L72.3 189.0L72.6 189.0L72.6 188.7L72.9 188.7L72.9 188.3L73.4 188.6L73.3 188.1L73.7 188.2L73.6 187.7L74.1 187.8L74.5 187.7L74.5 187.2L74.6 186.7L75.1 186.7L75.6 186.5L75.9 186.0L76.5 185.8L76.9 185.2L77.7 185.0L78.5 184.8L79.3 184.3L80.2 184.2L81.1 183.8L81.7 184.4L82.4 184.7L81.9 185.6L81.7 186.4L81.4 187.3L81.3 188.2L81.0 189.0L80.5 189.6L79.9 189.9L79.7 190.5L79.2 190.7L79.4 191.4L78.9 191.5L78.5 191.6L78.4 192.0L78.2 192.2L78.2 192.7L78.0 192.8L77.8 192.9L77.3 192.8L77.2 193.0L77.3 193.5L76.8 193.3L77.1 193.8L76.7 193.7L76.4 193.7L76.5 194.1L76.1 194.0L76.1 194.3L76.2 194.7L75.9 194.7L75.7 194.8L75.6 195.1L75.1 195.0L75.2 195.5L74.7 195.4L74.6 195.9L74.4 196.2L73.9 196.2L73.7 196.7L73.1 196.8L72.5 197.0L72.0 197.5L71.4 198.0L70.7 198.7L69.7 198.8L68.8 199.3L67.9 199.0L67.0 199.0L66.9 198.3L66.6 197.5L66.9 196.6L67.4 195.7L67.5 194.8L67.9 194.1L68.8 193.7L68.8 193.0L69.4 192.7L69.8 192.3L69.8 191.8Z" fill="#cf611c"/></g>
<path d="M52.50 139.50V237.50M23.85 189.50H119.85" stroke="#ff9f0a" stroke-width="0.85" stroke-opacity="0.66" fill="none"/>
<circle cx="74.13" cy="191.81" r="2.5" fill="#fff"/><circle cx="74.13" cy="191.81" r="2.1" fill="#fc0812"/>
<path d="M33.45 237.50v-3.20M33.45 139.50v3.20M45.45 237.50v-3.20M45.45 139.50v3.20M57.45 237.50v-3.20M57.45 139.50v3.20M69.45 237.50v-3.20M69.45 139.50v3.20M81.45 237.50v-3.20M81.45 139.50v3.20M93.45 237.50v-3.20M93.45 139.50v3.20M105.45 237.50v-3.20M105.45 139.50v3.20M117.45 237.50v-3.20M117.45 139.50v3.20M23.85 235.54h3.20M119.85 235.54h-3.20M23.85 223.29h3.20M119.85 223.29h-3.20M23.85 211.04h3.20M119.85 211.04h-3.20M23.85 198.79h3.20M119.85 198.79h-3.20M23.85 186.54h3.20M119.85 186.54h-3.20M23.85 174.29h3.20M119.85 174.29h-3.20M23.85 162.04h3.20M119.85 162.04h-3.20M23.85 149.79h3.20M119.85 149.79h-3.20" stroke="#555" stroke-width="0.7" fill="none"/>
<rect x="23.85" y="139.50" width="96.00" height="98.00" fill="none" stroke="#747474" stroke-width="0.8"/>
<text x="33.45" y="244.10" font-size="5.5" text-anchor="middle" fill="#3c3c3c">20</text>
<text x="45.45" y="244.10" font-size="5.5" text-anchor="middle" fill="#3c3c3c">25</text>
<text x="57.45" y="244.10" font-size="5.5" text-anchor="middle" fill="#3c3c3c">30</text>
<text x="69.45" y="244.10" font-size="5.5" text-anchor="middle" fill="#3c3c3c">35</text>
<text x="81.45" y="244.10" font-size="5.5" text-anchor="middle" fill="#3c3c3c">40</text>
<text x="93.45" y="244.10" font-size="5.5" text-anchor="middle" fill="#3c3c3c">45</text>
<text x="105.45" y="244.10" font-size="5.5" text-anchor="middle" fill="#3c3c3c">50</text>
<text x="117.45" y="244.10" font-size="5.5" text-anchor="middle" fill="#3c3c3c">55</text>
<text x="21.85" y="237.34" font-size="5.5" text-anchor="end" fill="#3c3c3c">35</text>
<text x="21.85" y="225.09" font-size="5.5" text-anchor="end" fill="#3c3c3c">40</text>
<text x="21.85" y="212.84" font-size="5.5" text-anchor="end" fill="#3c3c3c">45</text>
<text x="21.85" y="200.59" font-size="5.5" text-anchor="end" fill="#3c3c3c">50</text>
<text x="21.85" y="188.34" font-size="5.5" text-anchor="end" fill="#3c3c3c">55</text>
<text x="21.85" y="176.09" font-size="5.5" text-anchor="end" fill="#3c3c3c">60</text>
<text x="21.85" y="163.84" font-size="5.5" text-anchor="end" fill="#3c3c3c">65</text>
<text x="21.85" y="151.59" font-size="5.5" text-anchor="end" fill="#3c3c3c">70</text>
<text x="45.85" y="251.40" font-size="6.0" textLength="52.0" lengthAdjust="spacingAndGlyphs" fill="#1c1c1c" stroke="#1c1c1c" stroke-width="0.12">Surface Ozone /ppb</text>
<text transform="translate(10.05 188.50) rotate(-90)" x="-28.30" font-size="6.35" textLength="56.6" lengthAdjust="spacingAndGlyphs" fill="#1c1c1c" stroke="#1c1c1c" stroke-width="0.12">500 hPa Ozone /ppb</text>
<clipPath id="c11"><rect x="147.85" y="139.50" width="96.00" height="98.00"/></clipPath>
<path d="M157.45 139.50V237.50M169.45 139.50V237.50M181.45 139.50V237.50M193.45 139.50V237.50M205.45 139.50V237.50M217.45 139.50V237.50M229.45 139.50V237.50M241.45 139.50V237.50M147.85 235.54H243.85M147.85 223.29H243.85M147.85 211.04H243.85M147.85 198.79H243.85M147.85 186.54H243.85M147.85 174.29H243.85M147.85 162.04H243.85M147.85 149.79H243.85" stroke="#f0f0f0" stroke-width="0.6" fill="none"/>
<g clip-path="url(#c11)"><path d="M182.9 186.2L183.3 184.9L184.7 183.9L186.0 182.7L187.0 182.5L188.0 182.2L189.4 181.5L190.6 181.1L191.5 180.5L192.3 180.2L193.0 179.7L193.8 179.3L194.6 178.9L195.4 178.8L196.2 178.6L196.9 178.5L197.7 178.5L198.3 178.7L199.0 178.6L199.6 178.7L200.1 178.3L200.7 178.6L201.2 178.4L201.8 178.5L202.3 178.4L202.9 178.4L203.5 178.0L204.2 178.1L204.8 177.6L205.6 177.3L206.7 176.4L207.9 176.1L208.9 176.1L209.8 176.4L210.2 177.2L211.0 177.7L211.4 178.4L212.4 178.7L213.7 179.0L215.2 179.3L216.9 179.7L218.5 180.1L219.8 181.1L220.7 182.3L220.7 183.6L220.4 185.1L219.3 185.6L218.3 186.2L216.8 187.2L216.0 188.3L214.5 188.8L213.1 189.4L212.1 189.8L211.6 190.6L210.6 190.7L210.0 191.2L209.4 191.6L208.8 192.0L208.1 192.1L207.4 192.1L206.9 192.3L206.4 192.7L205.8 192.8L205.4 193.0L204.9 193.2L204.4 193.3L203.9 193.5L203.3 193.3L202.8 193.5L202.3 193.7L201.8 193.9L201.2 194.0L200.6 194.0L200.0 194.1L199.3 194.5L198.6 194.8L197.7 195.4L196.6 195.7L195.4 196.0L194.3 196.0L193.2 196.2L192.2 195.7L191.1 195.5L190.0 195.0L189.2 194.2L188.1 193.6L187.2 192.8L186.1 192.1L185.6 190.9L185.0 189.8L184.1 188.7L183.4 187.5Z" fill="#6f6284"/>
<path d="M186.1 186.7L186.8 185.7L187.9 184.7L189.1 184.0L190.7 183.6L191.8 183.1L192.8 182.8L193.5 182.2L194.4 182.1L194.9 181.7L195.6 181.6L196.2 181.1L196.9 181.3L197.4 181.1L198.0 180.8L198.5 181.0L199.0 180.7L199.4 180.6L199.9 180.7L200.3 180.6L200.8 180.6L201.2 180.8L201.6 180.6L202.1 180.6L202.5 180.4L203.0 180.5L203.5 180.4L204.0 180.2L204.6 180.1L205.3 179.7L206.0 179.4L206.8 179.2L207.4 179.6L208.0 179.9L208.7 180.0L209.3 180.4L210.3 180.7L211.4 180.8L212.8 180.7L214.2 181.2L215.7 181.5L217.0 182.2L217.7 183.3L218.2 184.4L217.8 185.5L216.6 186.7L215.4 187.7L214.3 188.5L213.0 189.1L211.7 189.4L210.8 189.9L210.1 190.4L209.4 190.8L208.7 191.0L208.0 191.1L207.4 191.4L206.8 191.4L206.3 191.5L205.9 191.9L205.3 191.8L205.0 192.2L204.5 192.0L204.1 192.3L203.7 192.4L203.2 192.2L202.9 192.6L202.5 192.7L202.0 192.5L201.6 192.7L201.2 192.6L200.8 192.9L200.3 193.0L199.7 192.9L199.2 193.3L198.5 193.3L197.8 193.8L197.0 193.7L196.2 194.0L195.4 193.8L194.5 193.9L193.6 193.7L192.7 193.2L191.7 193.1L190.6 192.5L189.4 192.3L188.3 191.6L187.2 191.0L186.5 189.9L186.0 188.9L185.6 187.8Z" fill="#555fa0"/>
<path d="M187.8 186.6L188.8 185.9L189.8 185.1L190.9 184.4L192.1 183.7L193.2 183.5L194.0 183.1L194.8 183.0L195.4 182.5L196.0 182.4L196.6 182.2L197.1 182.0L197.7 181.9L198.2 181.9L198.7 181.9L199.1 181.7L199.5 181.6L199.9 181.8L200.3 181.4L200.7 181.6L201.0 181.5L201.4 181.4L201.8 181.4L202.2 181.4L202.5 181.4L202.9 181.3L203.4 181.3L203.7 180.9L204.2 180.9L204.8 180.6L205.5 180.8L206.1 180.7L206.7 180.5L207.2 180.8L207.8 181.0L208.6 181.0L209.4 181.2L210.4 181.5L211.6 181.6L212.9 181.7L214.1 182.3L215.4 182.8L216.2 183.6L216.6 184.6L216.1 185.6L215.3 186.6L214.1 187.4L213.2 188.2L212.0 188.9L210.9 189.1L210.0 189.6L209.3 189.9L208.7 190.3L208.0 190.6L207.4 190.6L206.8 190.7L206.3 190.8L205.9 191.1L205.5 191.3L205.1 191.3L204.6 191.2L204.3 191.6L203.9 191.4L203.6 191.7L203.2 191.8L202.9 191.9L202.5 191.9L202.1 191.9L201.7 191.8L201.4 191.8L201.0 192.2L200.6 192.2L200.1 192.1L199.7 192.5L199.1 192.5L198.5 192.6L197.9 192.9L197.2 192.9L196.5 192.8L195.7 192.7L195.0 192.4L194.1 192.5L193.1 192.3L192.2 191.8L191.0 191.6L190.0 190.9L188.9 190.4L188.2 189.6L187.5 188.7L187.3 187.7Z" fill="#4682cd"/>
<path d="M189.5 186.6L190.3 185.7L191.3 185.1L192.3 184.6L193.4 184.2L194.2 183.7L195.0 183.4L195.8 183.4L196.3 183.0L196.8 182.8L197.4 182.7L197.8 182.5L198.3 182.6L198.7 182.2L199.1 182.4L199.5 182.3L199.8 182.1L200.2 182.3L200.5 182.0L200.8 182.0L201.1 181.9L201.5 182.0L201.8 182.1L202.1 182.0L202.4 181.8L202.8 182.0L203.1 181.6L203.5 181.6L204.0 181.7L204.5 181.7L204.9 181.5L205.5 181.5L206.0 181.5L206.5 181.5L207.1 181.8L207.7 181.8L208.5 181.7L209.4 181.9L210.5 182.2L211.6 182.2L212.8 182.5L213.8 183.3L214.7 183.9L215.1 184.7L214.8 185.6L213.9 186.4L213.2 187.5L212.1 188.0L211.1 188.7L210.1 188.9L209.3 189.2L208.5 189.4L207.9 189.7L207.3 189.9L206.8 190.1L206.3 190.2L205.9 190.4L205.4 190.3L205.0 190.4L204.7 190.5L204.4 190.8L204.0 190.7L203.7 190.7L203.4 190.9L203.0 190.8L202.7 190.9L202.4 191.0L202.1 191.0L201.8 191.1L201.4 191.1L201.1 191.4L200.8 191.2L200.4 191.3L200.0 191.4L199.5 191.6L199.1 191.8L198.5 191.7L197.9 191.6L197.3 191.8L196.6 191.8L195.9 191.7L195.1 191.7L194.3 191.3L193.4 191.0L192.3 190.8L191.2 190.5L190.2 189.9L189.3 189.3L189.1 188.4L188.9 187.5Z" fill="#4bb4d2"/>
<path d="M190.9 186.3L191.9 185.8L192.7 185.0L193.6 184.6L194.5 184.2L195.3 184.0L196.0 183.8L196.6 183.7L197.1 183.3L197.7 183.4L198.0 183.0L198.4 183.0L198.9 183.1L199.2 182.9L199.5 182.8L199.9 182.8L200.1 182.6L200.5 182.8L200.7 182.6L201.0 182.8L201.3 182.7L201.5 182.6L201.8 182.3L202.1 182.6L202.4 182.3L202.7 182.4L203.0 182.4L203.3 182.2L203.6 182.4L204.0 182.3L204.4 182.2L204.9 182.1L205.3 182.2L205.8 182.2L206.3 182.1L206.9 182.4L207.6 182.5L208.4 182.5L209.3 182.7L210.4 182.6L211.3 183.2L212.5 183.3L213.1 184.1L213.6 184.8L213.3 185.7L212.6 186.4L211.8 187.1L210.9 187.7L210.0 188.2L209.2 188.6L208.4 188.8L207.8 189.1L207.2 189.4L206.6 189.3L206.2 189.5L205.8 189.7L205.4 189.9L205.0 189.7L204.7 190.0L204.3 190.1L204.0 190.0L203.7 190.0L203.4 190.0L203.2 190.1L202.9 190.1L202.6 190.1L202.4 190.2L202.1 190.3L201.8 190.6L201.6 190.6L201.3 190.7L200.9 190.4L200.6 190.5L200.3 190.5L199.9 190.7L199.5 190.7L199.1 190.9L198.6 190.7L198.1 190.6L197.5 190.8L196.9 190.9L196.2 190.8L195.4 190.6L194.5 190.3L193.6 190.1L192.5 189.9L191.5 189.6L190.7 188.9L190.3 188.1L190.7 187.3Z" fill="#5cd9a0"/>
<path d="M193.2 186.2L194.0 185.8L194.7 185.3L195.5 184.9L196.1 184.5L196.8 184.4L197.3 183.9L197.8 183.7L198.3 183.8L198.7 183.7L199.1 183.5L199.4 183.4L199.7 183.2L200.1 183.5L200.3 183.4L200.6 183.4L200.8 183.4L201.0 183.1L201.3 183.2L201.5 183.0L201.7 183.2L202.0 183.2L202.2 182.9L202.4 182.8L202.6 182.8L202.9 183.0L203.1 182.8L203.4 182.7L203.7 183.0L204.0 182.9L204.3 182.8L204.6 182.6L205.0 182.9L205.4 182.8L205.9 182.6L206.4 182.7L207.0 182.9L207.7 183.0L208.5 182.9L209.3 183.2L210.2 183.2L211.1 183.6L211.6 184.3L212.1 184.9L212.0 185.6L211.4 186.2L210.8 186.9L210.0 187.4L209.1 187.7L208.4 188.0L207.8 188.2L207.2 188.4L206.7 188.6L206.3 188.9L205.8 188.7L205.5 189.1L205.1 189.0L204.8 189.1L204.5 189.1L204.2 189.1L204.0 189.3L203.7 189.2L203.5 189.2L203.3 189.4L203.1 189.5L202.8 189.3L202.6 189.4L202.4 189.7L202.2 189.6L201.9 189.3L201.7 189.7L201.5 189.6L201.2 189.5L200.9 189.5L200.6 189.6L200.3 189.6L200.0 189.9L199.6 189.9L199.2 189.5L198.7 189.6L198.2 189.9L197.5 189.9L196.9 189.7L196.1 189.4L195.2 189.5L194.4 189.1L193.6 188.6L192.9 188.2L192.7 187.6L192.6 186.9Z" fill="#96e169"/>
<path d="M195.0 186.0L195.5 185.5L196.3 185.4L196.8 184.8L197.5 184.9L198.0 184.6L198.4 184.3L198.8 184.4L199.1 184.0L199.5 184.1L199.7 183.9L200.1 184.1L200.3 184.1L200.5 184.0L200.7 183.6L200.9 183.9L201.1 183.8L201.3 183.8L201.5 183.7L201.7 183.7L201.8 183.7L202.0 183.7L202.2 183.4L202.4 183.4L202.6 183.6L202.7 183.4L202.9 183.5L203.1 183.3L203.4 183.6L203.6 183.2L203.9 183.6L204.1 183.5L204.4 183.4L204.7 183.2L205.1 183.5L205.5 183.3L206.0 183.4L206.6 183.3L207.1 183.7L207.8 183.7L208.5 183.8L209.3 184.0L209.6 184.6L209.8 185.1L209.7 185.5L209.6 186.2L208.9 186.6L208.3 187.0L207.6 187.2L207.2 187.6L206.6 187.7L206.1 187.7L205.7 187.9L205.5 188.3L205.1 188.3L204.8 188.4L204.5 188.2L204.3 188.3L204.1 188.4L203.8 188.5L203.6 188.5L203.4 188.5L203.3 188.5L203.1 188.4L202.9 188.5L202.7 188.5L202.5 188.5L202.4 188.5L202.2 188.6L202.0 188.9L201.8 188.7L201.6 188.6L201.4 188.8L201.2 188.7L201.0 188.9L200.7 188.7L200.4 188.9L200.1 188.8L199.8 189.0L199.4 188.9L199.0 188.9L198.6 188.9L198.0 189.0L197.4 188.7L196.8 188.4L196.1 188.3L195.5 188.0L194.9 187.6L194.7 187.2L194.9 186.7Z" fill="#d4d044"/>
<path d="M197.3 186.0L197.5 185.6L198.0 185.3L198.4 185.1L198.8 184.8L199.2 184.8L199.6 184.9L199.9 184.8L200.1 184.5L200.3 184.6L200.5 184.6L200.7 184.6L200.9 184.5L201.0 184.4L201.1 184.2L201.3 184.4L201.4 184.2L201.6 184.3L201.7 184.2L201.8 184.2L202.0 184.4L202.1 184.0L202.2 184.2L202.4 184.2L202.5 184.1L202.6 184.3L202.7 184.1L202.9 184.3L203.1 184.2L203.2 184.3L203.4 183.9L203.6 183.9L203.8 184.0L204.0 184.2L204.3 183.8L204.6 183.9L204.9 184.1L205.3 184.3L205.8 184.0L206.2 184.2L206.7 184.4L207.1 184.6L207.5 184.9L207.6 185.2L207.7 185.6L207.4 186.0L207.1 186.4L206.5 186.5L206.2 186.9L205.7 187.0L205.3 186.9L205.0 187.1L204.7 187.2L204.5 187.3L204.3 187.4L204.0 187.4L203.9 187.6L203.7 187.7L203.6 187.7L203.4 187.8L203.3 187.7L203.1 187.8L203.0 187.8L202.8 187.7L202.7 187.5L202.6 187.7L202.5 187.8L202.3 187.7L202.2 187.9L202.1 188.0L202.0 187.9L201.8 187.9L201.7 187.8L201.5 187.9L201.3 187.8L201.2 188.0L201.0 187.7L200.8 188.0L200.5 187.8L200.3 188.1L200.0 187.8L199.6 188.0L199.3 187.7L198.9 187.7L198.4 187.6L197.8 187.7L197.3 187.5L196.9 187.2L197.0 186.7L196.8 186.3Z" fill="#ec962c"/>
<path d="M199.7 186.0L199.9 185.8L200.2 185.6L200.3 185.3L200.6 185.2L200.8 185.1L201.0 185.4L201.1 185.1L201.3 185.2L201.4 185.1L201.5 185.0L201.6 184.9L201.7 184.9L201.8 185.2L201.9 184.9L202.0 185.2L202.0 184.9L202.1 185.1L202.2 184.8L202.3 185.1L202.3 184.8L202.4 184.9L202.5 184.9L202.5 184.8L202.6 184.8L202.7 185.0L202.7 184.8L202.8 184.8L202.9 185.0L203.0 184.8L203.1 184.7L203.2 184.7L203.3 184.8L203.5 184.8L203.6 184.9L203.8 184.8L203.9 185.0L204.2 184.7L204.4 185.0L204.6 185.1L205.0 184.9L205.3 185.0L205.4 185.3L205.6 185.5L205.5 185.7L205.2 185.9L205.2 186.2L204.9 186.4L204.6 186.4L204.4 186.6L204.2 186.6L204.0 186.6L203.9 186.8L203.8 186.8L203.6 186.8L203.5 186.7L203.3 186.6L203.3 186.8L203.2 187.0L203.1 186.9L203.0 186.7L203.0 186.8L202.9 186.7L202.8 186.7L202.7 186.7L202.7 187.0L202.6 186.7L202.5 186.9L202.5 187.0L202.4 187.1L202.3 186.8L202.3 187.1L202.2 187.1L202.1 187.1L202.0 186.8L201.9 187.0L201.8 186.9L201.7 187.1L201.5 187.0L201.4 187.1L201.2 187.1L201.0 186.9L200.8 187.0L200.6 187.1L200.4 186.7L200.1 186.8L199.7 186.8L199.5 186.7L199.6 186.3L199.5 186.1Z" fill="#cf611c"/></g>
<path d="M176.50 139.50V237.50M147.85 189.50H243.85" stroke="#ff9f0a" stroke-width="0.85" stroke-opacity="0.66" fill="none"/>
<circle cx="198.13" cy="191.81" r="2.5" fill="#fff"/><circle cx="198.13" cy="191.81" r="2.1" fill="#fc0812"/>
<path d="M157.45 237.50v-3.20M157.45 139.50v3.20M169.45 237.50v-3.20M169.45 139.50v3.20M181.45 237.50v-3.20M181.45 139.50v3.20M193.45 237.50v-3.20M193.45 139.50v3.20M205.45 237.50v-3.20M205.45 139.50v3.20M217.45 237.50v-3.20M217.45 139.50v3.20M229.45 237.50v-3.20M229.45 139.50v3.20M241.45 237.50v-3.20M241.45 139.50v3.20M147.85 235.54h3.20M243.85 235.54h-3.20M147.85 223.29h3.20M243.85 223.29h-3.20M147.85 211.04h3.20M243.85 211.04h-3.20M147.85 198.79h3.20M243.85 198.79h-3.20M147.85 186.54h3.20M243.85 186.54h-3.20M147.85 174.29h3.20M243.85 174.29h-3.20M147.85 162.04h3.20M243.85 162.04h-3.20M147.85 149.79h3.20M243.85 149.79h-3.20" stroke="#555" stroke-width="0.7" fill="none"/>
<rect x="147.85" y="139.50" width="96.00" height="98.00" fill="none" stroke="#747474" stroke-width="0.8"/>
<text x="157.45" y="244.10" font-size="5.5" text-anchor="middle" fill="#3c3c3c">20</text>
<text x="169.45" y="244.10" font-size="5.5" text-anchor="middle" fill="#3c3c3c">25</text>
<text x="181.45" y="244.10" font-size="5.5" text-anchor="middle" fill="#3c3c3c">30</text>
<text x="193.45" y="244.10" font-size="5.5" text-anchor="middle" fill="#3c3c3c">35</text>
<text x="205.45" y="244.10" font-size="5.5" text-anchor="middle" fill="#3c3c3c">40</text>
<text x="217.45" y="244.10" font-size="5.5" text-anchor="middle" fill="#3c3c3c">45</text>
<text x="229.45" y="244.10" font-size="5.5" text-anchor="middle" fill="#3c3c3c">50</text>
<text x="241.45" y="244.10" font-size="5.5" text-anchor="middle" fill="#3c3c3c">55</text>
<text x="145.85" y="237.34" font-size="5.5" text-anchor="end" fill="#3c3c3c">35</text>
<text x="145.85" y="225.09" font-size="5.5" text-anchor="end" fill="#3c3c3c">40</text>
<text x="145.85" y="212.84" font-size="5.5" text-anchor="end" fill="#3c3c3c">45</text>
<text x="145.85" y="200.59" font-size="5.5" text-anchor="end" fill="#3c3c3c">50</text>
<text x="145.85" y="188.34" font-size="5.5" text-anchor="end" fill="#3c3c3c">55</text>
<text x="145.85" y="176.09" font-size="5.5" text-anchor="end" fill="#3c3c3c">60</text>
<text x="145.85" y="163.84" font-size="5.5" text-anchor="end" fill="#3c3c3c">65</text>
<text x="145.85" y="151.59" font-size="5.5" text-anchor="end" fill="#3c3c3c">70</text>
<text x="169.85" y="251.40" font-size="6.0" textLength="52.0" lengthAdjust="spacingAndGlyphs" fill="#1c1c1c" stroke="#1c1c1c" stroke-width="0.12">Surface Ozone /ppb</text>
<text transform="translate(134.05 188.50) rotate(-90)" x="-28.30" font-size="6.35" textLength="56.6" lengthAdjust="spacingAndGlyphs" fill="#1c1c1c" stroke="#1c1c1c" stroke-width="0.12">500 hPa Ozone /ppb</text>
<clipPath id="c12"><rect x="271.85" y="139.50" width="96.00" height="98.00"/></clipPath>
<path d="M281.45 139.50V237.50M293.45 139.50V237.50M305.45 139.50V237.50M317.45 139.50V237.50M329.45 139.50V237.50M341.45 139.50V237.50M353.45 139.50V237.50M365.45 139.50V237.50M271.85 235.54H367.85M271.85 223.29H367.85M271.85 211.04H367.85M271.85 198.79H367.85M271.85 186.54H367.85M271.85 174.29H367.85M271.85 162.04H367.85M271.85 149.79H367.85" stroke="#f0f0f0" stroke-width="0.6" fill="none"/>
<g clip-path="url(#c12)"><path d="M298.4 225.5C298.4 225.3 298.4 225.2 298.4 225.1C298.4 225.0 298.4 224.8 298.4 224.7C298.4 224.6 298.4 224.5 298.4 224.3C298.4 224.2 298.4 224.0 298.4 223.9C298.4 223.7 298.4 223.6 298.4 223.4C298.4 223.3 298.4 223.1 298.4 222.9C298.5 222.8 298.5 222.6 298.5 222.4C298.5 222.2 298.6 222.0 298.6 221.7C298.6 221.5 298.6 221.3 298.7 221.0C298.7 220.7 298.8 220.4 298.8 220.0C298.9 219.7 298.9 219.3 299.0 218.8C299.1 218.4 299.2 217.9 299.3 217.3C299.4 216.7 299.5 215.9 299.8 215.1C300.0 214.4 300.3 212.9 300.6 212.9C301.0 213.0 301.6 214.7 301.9 215.5C302.3 216.3 302.5 217.3 302.7 217.9C303.0 218.5 303.1 218.8 303.3 219.2C303.4 219.6 303.6 219.9 303.7 220.2C303.8 220.5 303.9 220.7 304.0 220.9C304.1 221.1 304.2 221.3 304.2 221.5C304.3 221.7 304.4 221.8 304.5 222.0C304.6 222.1 304.6 222.3 304.7 222.4C304.7 222.6 304.8 222.7 304.9 222.9C304.9 223.0 305.0 223.1 305.0 223.2C305.1 223.4 305.1 223.5 305.2 223.6C305.2 223.7 305.2 223.9 305.3 224.0C305.3 224.1 305.4 224.2 305.4 224.3C305.5 224.5 305.5 224.6 305.5 224.7C305.6 224.8 305.6 225.0 305.6 225.1C305.7 225.2 305.7 225.3 305.7 225.5C305.8 225.6 305.8 225.7 305.8 225.9C305.8 226.0 305.9 226.2 305.9 226.3C305.9 226.5 305.9 226.6 305.9 226.8C305.9 226.9 305.9 227.1 305.9 227.2C305.9 227.4 305.9 227.6 305.8 227.7C305.8 227.9 305.8 228.1 305.8 228.2C305.7 228.4 305.7 228.6 305.6 228.8C305.6 229.0 305.6 229.2 305.5 229.4C305.4 229.6 305.4 229.9 305.3 230.1C305.3 230.4 305.2 230.6 305.1 230.9C305.0 231.2 304.9 231.5 304.8 231.8C304.7 232.2 304.5 232.5 304.4 232.9C304.2 233.3 304.0 233.7 303.8 234.2C303.6 234.6 303.3 235.0 303.0 235.4C302.7 235.8 302.3 236.2 301.9 236.4C301.6 236.7 301.1 237.0 300.7 236.9C300.4 236.9 299.9 236.6 299.7 236.2C299.4 235.7 299.3 234.8 299.1 234.2C299.0 233.6 298.9 233.1 298.8 232.6C298.7 232.1 298.7 231.6 298.6 231.2C298.6 230.8 298.6 230.5 298.6 230.1C298.6 229.8 298.5 229.5 298.5 229.3C298.5 229.0 298.5 228.8 298.5 228.6C298.5 228.4 298.5 228.2 298.5 228.0C298.5 227.8 298.4 227.7 298.4 227.5C298.4 227.3 298.4 227.2 298.4 227.0C298.4 226.9 298.4 226.8 298.4 226.6C298.4 226.5 298.4 226.4 298.4 226.2C298.4 226.1 298.4 226.0 298.4 225.8C298.4 225.7 298.4 225.6 298.4 225.5Z" fill="#6f6284"/>
<path d="M298.9 225.6C298.9 225.5 298.9 225.4 298.9 225.3C298.8 225.1 298.9 225.0 298.9 224.9C298.9 224.8 298.9 224.7 298.9 224.5C298.9 224.4 298.9 224.3 298.9 224.1C298.9 224.0 298.9 223.9 298.9 223.7C298.9 223.6 298.9 223.4 298.9 223.3C298.9 223.1 299.0 222.9 299.0 222.7C299.0 222.6 299.0 222.4 299.0 222.2C299.1 221.9 299.1 221.7 299.1 221.5C299.1 221.2 299.2 220.9 299.2 220.6C299.3 220.3 299.3 219.9 299.4 219.5C299.5 219.1 299.5 218.6 299.6 218.0C299.7 217.5 299.8 216.8 300.0 216.1C300.2 215.4 300.5 214.0 300.8 214.1C301.1 214.1 301.6 215.7 301.9 216.4C302.2 217.2 302.4 218.0 302.6 218.6C302.8 219.2 302.9 219.5 303.0 219.8C303.2 220.2 303.3 220.5 303.4 220.7C303.5 221.0 303.5 221.2 303.6 221.4C303.7 221.6 303.8 221.8 303.9 221.9C303.9 222.1 304.0 222.2 304.1 222.4C304.1 222.5 304.2 222.7 304.2 222.8C304.3 222.9 304.3 223.1 304.4 223.2C304.4 223.3 304.5 223.4 304.5 223.6C304.5 223.7 304.6 223.8 304.6 223.9C304.7 224.0 304.7 224.1 304.7 224.2C304.8 224.3 304.8 224.5 304.8 224.6C304.9 224.7 304.9 224.8 304.9 224.9C305.0 225.0 305.0 225.1 305.0 225.2C305.1 225.4 305.1 225.5 305.1 225.6C305.1 225.7 305.2 225.8 305.2 226.0C305.2 226.1 305.2 226.2 305.2 226.4C305.2 226.5 305.3 226.6 305.3 226.8C305.3 226.9 305.3 227.1 305.2 227.2C305.2 227.4 305.2 227.5 305.2 227.7C305.2 227.8 305.2 228.0 305.1 228.1C305.1 228.3 305.1 228.5 305.0 228.7C305.0 228.8 305.0 229.0 304.9 229.2C304.9 229.4 304.8 229.6 304.8 229.9C304.7 230.1 304.6 230.3 304.6 230.6C304.5 230.9 304.4 231.2 304.3 231.5C304.2 231.8 304.1 232.1 304.0 232.5C303.8 232.8 303.7 233.2 303.5 233.6C303.3 234.0 303.0 234.4 302.8 234.7C302.5 235.1 302.2 235.4 301.9 235.7C301.6 235.9 301.2 236.2 300.9 236.1C300.6 236.1 300.2 235.9 300.0 235.4C299.7 235.0 299.6 234.2 299.5 233.6C299.4 233.1 299.3 232.6 299.2 232.1C299.1 231.7 299.1 231.3 299.1 230.9C299.0 230.5 299.0 230.2 299.0 229.9C299.0 229.6 299.0 229.3 299.0 229.1C299.0 228.9 299.0 228.7 299.0 228.5C299.0 228.3 298.9 228.1 298.9 227.9C298.9 227.8 298.9 227.6 298.9 227.5C298.9 227.3 298.9 227.2 298.9 227.0C298.9 226.9 298.9 226.8 298.9 226.7C298.9 226.5 298.9 226.4 298.9 226.3C298.9 226.2 298.9 226.1 298.9 225.9C298.9 225.8 298.9 225.7 298.9 225.6Z" fill="#555fa0"/>
<path d="M299.3 225.7C299.3 225.6 299.3 225.5 299.3 225.4C299.3 225.3 299.3 225.2 299.3 225.1C299.3 225.0 299.3 224.8 299.3 224.7C299.3 224.6 299.3 224.5 299.3 224.4C299.3 224.2 299.3 224.1 299.3 224.0C299.3 223.8 299.3 223.7 299.3 223.5C299.3 223.4 299.4 223.2 299.4 223.1C299.4 222.9 299.4 222.7 299.4 222.5C299.5 222.3 299.5 222.1 299.5 221.9C299.5 221.6 299.6 221.4 299.6 221.1C299.6 220.8 299.7 220.5 299.7 220.1C299.8 219.7 299.8 219.3 299.9 218.7C300.0 218.2 300.1 217.5 300.3 216.9C300.4 216.3 300.6 215.0 300.9 215.0C301.2 215.1 301.6 216.5 301.9 217.2C302.1 217.9 302.3 218.7 302.4 219.3C302.6 219.8 302.7 220.1 302.8 220.4C302.9 220.7 303.0 221.0 303.1 221.2C303.2 221.4 303.2 221.6 303.3 221.8C303.4 222.0 303.5 222.2 303.5 222.3C303.6 222.5 303.6 222.6 303.7 222.7C303.7 222.9 303.8 223.0 303.8 223.1C303.9 223.3 303.9 223.4 303.9 223.5C304.0 223.6 304.0 223.7 304.1 223.8C304.1 223.9 304.1 224.0 304.2 224.1C304.2 224.2 304.2 224.3 304.3 224.4C304.3 224.5 304.3 224.6 304.4 224.8C304.4 224.9 304.4 225.0 304.4 225.1C304.5 225.2 304.5 225.3 304.5 225.4C304.5 225.5 304.6 225.6 304.6 225.7C304.6 225.8 304.6 225.9 304.6 226.1C304.7 226.2 304.7 226.3 304.7 226.4C304.7 226.5 304.7 226.7 304.7 226.8C304.7 226.9 304.7 227.1 304.7 227.2C304.7 227.3 304.7 227.5 304.7 227.6C304.6 227.8 304.6 227.9 304.6 228.1C304.6 228.2 304.5 228.4 304.5 228.5C304.5 228.7 304.5 228.9 304.4 229.1C304.4 229.3 304.3 229.5 304.3 229.7C304.2 229.9 304.2 230.1 304.1 230.3C304.1 230.6 304.0 230.8 303.9 231.1C303.8 231.4 303.7 231.7 303.6 232.0C303.5 232.4 303.3 232.7 303.2 233.1C303.0 233.4 302.8 233.8 302.6 234.1C302.4 234.5 302.1 234.8 301.9 235.0C301.6 235.2 301.3 235.5 301.0 235.4C300.7 235.4 300.4 235.2 300.2 234.8C300.0 234.4 299.9 233.6 299.8 233.1C299.7 232.6 299.6 232.2 299.6 231.7C299.5 231.3 299.5 231.0 299.5 230.6C299.4 230.3 299.4 229.9 299.4 229.7C299.4 229.4 299.4 229.2 299.4 228.9C299.4 228.7 299.4 228.5 299.4 228.4C299.4 228.2 299.4 228.0 299.3 227.9C299.3 227.7 299.3 227.6 299.3 227.4C299.3 227.3 299.3 227.2 299.3 227.0C299.3 226.9 299.3 226.8 299.3 226.7C299.3 226.6 299.3 226.5 299.3 226.4C299.3 226.2 299.3 226.1 299.3 226.0C299.3 225.9 299.3 225.8 299.3 225.7Z" fill="#4682cd"/>
<path d="M299.6 225.8C299.6 225.7 299.6 225.6 299.6 225.5C299.6 225.4 299.6 225.3 299.6 225.2C299.6 225.1 299.6 225.0 299.6 224.9C299.6 224.8 299.6 224.7 299.6 224.6C299.6 224.5 299.6 224.4 299.6 224.2C299.6 224.1 299.6 224.0 299.7 223.8C299.7 223.7 299.7 223.6 299.7 223.4C299.7 223.2 299.7 223.1 299.7 222.9C299.8 222.7 299.8 222.5 299.8 222.3C299.8 222.1 299.8 221.9 299.9 221.6C299.9 221.3 299.9 221.0 300.0 220.6C300.0 220.3 300.1 219.9 300.2 219.4C300.2 218.9 300.3 218.3 300.5 217.8C300.6 217.2 300.8 216.0 301.0 216.0C301.2 216.1 301.6 217.4 301.8 218.1C302.0 218.7 302.2 219.4 302.3 219.9C302.5 220.4 302.6 220.6 302.6 220.9C302.7 221.2 302.8 221.5 302.9 221.7C303.0 221.9 303.0 222.1 303.1 222.3C303.1 222.4 303.2 222.6 303.2 222.7C303.3 222.9 303.3 223.0 303.4 223.1C303.4 223.2 303.5 223.3 303.5 223.5C303.6 223.6 303.6 223.7 303.6 223.8C303.7 223.9 303.7 224.0 303.7 224.1C303.8 224.2 303.8 224.3 303.8 224.4C303.8 224.5 303.9 224.6 303.9 224.7C303.9 224.8 303.9 224.8 304.0 224.9C304.0 225.0 304.0 225.1 304.0 225.2C304.1 225.3 304.1 225.4 304.1 225.5C304.1 225.6 304.1 225.7 304.2 225.8C304.2 225.9 304.2 226.0 304.2 226.1C304.2 226.2 304.2 226.4 304.3 226.5C304.3 226.6 304.3 226.7 304.3 226.8C304.3 226.9 304.3 227.1 304.3 227.2C304.3 227.3 304.2 227.4 304.2 227.6C304.2 227.7 304.2 227.8 304.2 228.0C304.2 228.1 304.1 228.3 304.1 228.4C304.1 228.6 304.1 228.7 304.0 228.9C304.0 229.1 304.0 229.3 303.9 229.4C303.9 229.6 303.8 229.8 303.8 230.1C303.7 230.3 303.7 230.5 303.6 230.8C303.5 231.0 303.4 231.3 303.3 231.6C303.2 231.9 303.1 232.3 303.0 232.6C302.8 232.9 302.7 233.3 302.5 233.6C302.3 233.9 302.1 234.2 301.8 234.4C301.6 234.6 301.3 234.8 301.1 234.8C300.8 234.7 300.6 234.5 300.4 234.2C300.2 233.8 300.2 233.1 300.1 232.6C300.0 232.2 299.9 231.7 299.9 231.4C299.8 231.0 299.8 230.6 299.8 230.3C299.7 230.0 299.7 229.7 299.7 229.5C299.7 229.2 299.7 229.0 299.7 228.8C299.7 228.6 299.7 228.4 299.7 228.2C299.7 228.1 299.7 227.9 299.7 227.8C299.7 227.7 299.7 227.5 299.6 227.4C299.6 227.3 299.6 227.2 299.6 227.0C299.6 226.9 299.6 226.8 299.6 226.7C299.6 226.6 299.6 226.5 299.6 226.4C299.6 226.3 299.6 226.2 299.6 226.1C299.6 226.0 299.6 225.9 299.6 225.8Z" fill="#4bb4d2"/>
<path d="M299.9 225.9C299.9 225.8 299.9 225.8 299.9 225.7C299.9 225.6 299.9 225.5 299.9 225.4C299.9 225.3 299.9 225.2 299.9 225.1C299.9 225.0 299.9 224.9 299.9 224.8C299.9 224.7 299.9 224.6 299.9 224.5C299.9 224.4 299.9 224.3 299.9 224.1C299.9 224.0 300.0 223.9 300.0 223.7C300.0 223.6 300.0 223.4 300.0 223.3C300.0 223.1 300.0 222.9 300.1 222.7C300.1 222.5 300.1 222.3 300.1 222.1C300.2 221.8 300.2 221.5 300.2 221.2C300.3 220.9 300.3 220.5 300.4 220.1C300.4 219.7 300.5 219.1 300.6 218.6C300.7 218.1 300.9 217.0 301.1 217.0C301.3 217.1 301.6 218.3 301.8 218.9C302.0 219.4 302.1 220.1 302.2 220.5C302.3 221.0 302.4 221.2 302.5 221.5C302.6 221.7 302.6 222.0 302.7 222.2C302.8 222.4 302.8 222.5 302.9 222.7C302.9 222.8 303.0 223.0 303.0 223.1C303.1 223.2 303.1 223.3 303.1 223.5C303.2 223.6 303.2 223.7 303.2 223.8C303.3 223.9 303.3 224.0 303.3 224.1C303.4 224.2 303.4 224.3 303.4 224.4C303.4 224.4 303.5 224.5 303.5 224.6C303.5 224.7 303.5 224.8 303.6 224.9C303.6 225.0 303.6 225.0 303.6 225.1C303.7 225.2 303.7 225.3 303.7 225.4C303.7 225.5 303.7 225.6 303.7 225.7C303.8 225.7 303.8 225.8 303.8 225.9C303.8 226.0 303.8 226.1 303.8 226.2C303.9 226.3 303.9 226.4 303.9 226.5C303.9 226.6 303.9 226.7 303.9 226.8C303.9 227.0 303.9 227.1 303.9 227.2C303.9 227.3 303.9 227.4 303.9 227.5C303.8 227.6 303.8 227.8 303.8 227.9C303.8 228.0 303.8 228.2 303.8 228.3C303.7 228.4 303.7 228.6 303.7 228.7C303.6 228.9 303.6 229.1 303.6 229.2C303.5 229.4 303.5 229.6 303.5 229.8C303.4 230.0 303.4 230.2 303.3 230.5C303.2 230.7 303.2 230.9 303.1 231.2C303.0 231.5 302.9 231.8 302.8 232.1C302.6 232.4 302.5 232.7 302.3 233.0C302.2 233.2 302.0 233.5 301.8 233.7C301.6 233.9 301.4 234.1 301.2 234.1C301.0 234.0 300.7 233.8 300.6 233.5C300.4 233.2 300.4 232.6 300.3 232.1C300.2 231.7 300.2 231.3 300.1 231.0C300.1 230.6 300.0 230.3 300.0 230.0C300.0 229.7 300.0 229.5 300.0 229.2C300.0 229.0 300.0 228.8 300.0 228.6C300.0 228.4 300.0 228.3 300.0 228.1C300.0 228.0 300.0 227.9 299.9 227.7C299.9 227.6 299.9 227.5 299.9 227.4C299.9 227.3 299.9 227.2 299.9 227.0C299.9 226.9 299.9 226.8 299.9 226.8C299.9 226.7 299.9 226.6 299.9 226.5C299.9 226.4 299.9 226.3 299.9 226.2C299.9 226.1 299.9 226.0 299.9 225.9Z" fill="#5cd9a0"/>
<path d="M300.2 226.0C300.2 226.0 300.2 225.9 300.2 225.8C300.2 225.7 300.2 225.6 300.2 225.6C300.2 225.5 300.2 225.4 300.2 225.3C300.2 225.2 300.2 225.1 300.2 225.0C300.2 224.9 300.2 224.8 300.2 224.7C300.2 224.6 300.2 224.5 300.2 224.4C300.2 224.3 300.2 224.2 300.2 224.1C300.2 223.9 300.2 223.8 300.3 223.6C300.3 223.5 300.3 223.3 300.3 223.2C300.3 223.0 300.3 222.8 300.4 222.6C300.4 222.3 300.4 222.1 300.4 221.8C300.5 221.5 300.5 221.2 300.6 220.8C300.6 220.4 300.7 219.9 300.8 219.4C300.9 219.0 301.0 218.0 301.2 218.0C301.3 218.1 301.6 219.1 301.8 219.7C301.9 220.2 302.0 220.8 302.1 221.2C302.2 221.6 302.3 221.8 302.4 222.0C302.4 222.3 302.5 222.5 302.5 222.6C302.6 222.8 302.6 223.0 302.7 223.1C302.7 223.3 302.8 223.4 302.8 223.5C302.8 223.6 302.9 223.7 302.9 223.8C302.9 223.9 303.0 224.0 303.0 224.1C303.0 224.2 303.0 224.3 303.1 224.4C303.1 224.5 303.1 224.5 303.1 224.6C303.2 224.7 303.2 224.8 303.2 224.9C303.2 224.9 303.3 225.0 303.3 225.1C303.3 225.2 303.3 225.2 303.3 225.3C303.3 225.4 303.4 225.5 303.4 225.6C303.4 225.6 303.4 225.7 303.4 225.8C303.4 225.9 303.5 226.0 303.5 226.0C303.5 226.1 303.5 226.2 303.5 226.3C303.5 226.4 303.5 226.5 303.5 226.6C303.5 226.7 303.5 226.8 303.5 226.9C303.5 227.0 303.5 227.1 303.5 227.2C303.5 227.3 303.5 227.4 303.5 227.5C303.5 227.6 303.5 227.7 303.5 227.8C303.5 227.9 303.4 228.0 303.4 228.2C303.4 228.3 303.4 228.4 303.4 228.6C303.3 228.7 303.3 228.9 303.3 229.0C303.3 229.2 303.2 229.3 303.2 229.5C303.1 229.7 303.1 229.9 303.0 230.1C303.0 230.3 302.9 230.6 302.9 230.8C302.8 231.1 302.7 231.3 302.6 231.6C302.5 231.9 302.4 232.1 302.2 232.4C302.1 232.6 301.9 232.9 301.8 233.1C301.6 233.2 301.4 233.4 301.2 233.4C301.1 233.3 300.9 233.2 300.7 232.9C300.6 232.6 300.6 232.0 300.5 231.6C300.4 231.2 300.4 230.9 300.3 230.6C300.3 230.3 300.3 230.0 300.3 229.7C300.3 229.5 300.3 229.2 300.2 229.0C300.2 228.8 300.2 228.6 300.2 228.5C300.2 228.3 300.2 228.2 300.2 228.0C300.2 227.9 300.2 227.8 300.2 227.7C300.2 227.5 300.2 227.4 300.2 227.3C300.2 227.2 300.2 227.1 300.2 227.0C300.2 227.0 300.2 226.9 300.2 226.8C300.2 226.7 300.2 226.6 300.2 226.5C300.2 226.4 300.2 226.4 300.2 226.3C300.2 226.2 300.2 226.1 300.2 226.0Z" fill="#96e169"/>
<path d="M300.4 226.2C300.4 226.1 300.4 226.0 300.4 225.9C300.4 225.9 300.4 225.8 300.4 225.7C300.4 225.6 300.4 225.6 300.4 225.5C300.4 225.4 300.4 225.3 300.4 225.2C300.4 225.2 300.4 225.1 300.4 225.0C300.4 224.9 300.4 224.8 300.4 224.7C300.4 224.6 300.4 224.5 300.4 224.4C300.4 224.3 300.5 224.2 300.5 224.0C300.5 223.9 300.5 223.7 300.5 223.6C300.5 223.4 300.5 223.3 300.5 223.1C300.6 222.8 300.6 222.6 300.6 222.4C300.7 222.1 300.7 221.8 300.7 221.5C300.8 221.1 300.8 220.7 300.9 220.3C301.0 219.9 301.1 219.0 301.2 219.0C301.4 219.0 301.6 220.0 301.7 220.5C301.9 220.9 302.0 221.5 302.0 221.8C302.1 222.2 302.2 222.4 302.3 222.6C302.3 222.8 302.4 223.0 302.4 223.1C302.4 223.3 302.5 223.4 302.5 223.5C302.6 223.7 302.6 223.8 302.6 223.9C302.6 224.0 302.7 224.1 302.7 224.2C302.7 224.3 302.8 224.3 302.8 224.4C302.8 224.5 302.8 224.6 302.8 224.7C302.9 224.7 302.9 224.8 302.9 224.9C302.9 225.0 302.9 225.0 303.0 225.1C303.0 225.2 303.0 225.2 303.0 225.3C303.0 225.4 303.0 225.4 303.1 225.5C303.1 225.6 303.1 225.6 303.1 225.7C303.1 225.8 303.1 225.9 303.1 225.9C303.2 226.0 303.2 226.1 303.2 226.2C303.2 226.2 303.2 226.3 303.2 226.4C303.2 226.5 303.2 226.5 303.2 226.6C303.2 226.7 303.2 226.8 303.2 226.9C303.2 227.0 303.2 227.1 303.2 227.2C303.2 227.2 303.2 227.3 303.2 227.4C303.2 227.5 303.2 227.6 303.2 227.7C303.2 227.8 303.2 227.9 303.1 228.0C303.1 228.2 303.1 228.3 303.1 228.4C303.1 228.5 303.1 228.7 303.0 228.8C303.0 228.9 303.0 229.1 302.9 229.3C302.9 229.4 302.9 229.6 302.8 229.8C302.8 230.0 302.7 230.2 302.7 230.4C302.6 230.6 302.5 230.9 302.4 231.1C302.4 231.3 302.3 231.6 302.1 231.8C302.0 232.0 301.9 232.3 301.7 232.4C301.6 232.5 301.4 232.7 301.3 232.7C301.1 232.7 301.0 232.5 300.9 232.2C300.8 232.0 300.7 231.5 300.7 231.1C300.6 230.8 300.6 230.5 300.5 230.2C300.5 229.9 300.5 229.7 300.5 229.4C300.5 229.2 300.5 229.0 300.5 228.8C300.5 228.6 300.4 228.5 300.4 228.3C300.4 228.2 300.4 228.0 300.4 227.9C300.4 227.8 300.4 227.7 300.4 227.6C300.4 227.5 300.4 227.4 300.4 227.3C300.4 227.2 300.4 227.1 300.4 227.0C300.4 227.0 300.4 226.9 300.4 226.8C300.4 226.7 300.4 226.7 300.4 226.6C300.4 226.5 300.4 226.4 300.4 226.4C300.4 226.3 300.4 226.2 300.4 226.2Z" fill="#d4d044"/>
<path d="M300.7 226.4C300.7 226.4 300.7 226.3 300.7 226.3C300.7 226.2 300.7 226.2 300.7 226.1C300.7 226.1 300.7 226.0 300.7 226.0C300.7 225.9 300.7 225.8 300.7 225.8C300.7 225.7 300.7 225.7 300.8 225.6C300.8 225.5 300.8 225.5 300.8 225.4C300.8 225.3 300.8 225.3 300.8 225.2C300.8 225.1 300.8 225.0 300.8 224.9C300.8 224.8 300.8 224.7 300.8 224.6C300.8 224.5 300.8 224.4 300.9 224.2C300.9 224.1 300.9 223.9 300.9 223.8C300.9 223.6 301.0 223.4 301.0 223.1C301.0 222.9 301.1 222.6 301.1 222.3C301.2 222.0 301.3 221.4 301.4 221.4C301.5 221.4 301.6 222.1 301.7 222.4C301.8 222.8 301.9 223.1 301.9 223.4C302.0 223.6 302.0 223.8 302.1 223.9C302.1 224.1 302.1 224.2 302.2 224.3C302.2 224.4 302.2 224.5 302.3 224.6C302.3 224.7 302.3 224.8 302.3 224.8C302.4 224.9 302.4 225.0 302.4 225.0C302.4 225.1 302.4 225.1 302.4 225.2C302.5 225.3 302.5 225.3 302.5 225.4C302.5 225.4 302.5 225.5 302.5 225.5C302.5 225.6 302.6 225.6 302.6 225.7C302.6 225.7 302.6 225.8 302.6 225.8C302.6 225.9 302.6 225.9 302.6 226.0C302.7 226.0 302.7 226.1 302.7 226.1C302.7 226.2 302.7 226.2 302.7 226.3C302.7 226.3 302.7 226.4 302.7 226.4C302.7 226.5 302.7 226.5 302.8 226.6C302.8 226.6 302.8 226.7 302.8 226.8C302.8 226.8 302.8 226.9 302.8 226.9C302.8 227.0 302.8 227.1 302.8 227.1C302.8 227.2 302.8 227.3 302.8 227.3C302.8 227.4 302.7 227.5 302.7 227.5C302.7 227.6 302.7 227.7 302.7 227.8C302.7 227.8 302.7 227.9 302.7 228.0C302.7 228.1 302.6 228.2 302.6 228.3C302.6 228.4 302.6 228.5 302.6 228.6C302.5 228.7 302.5 228.8 302.5 229.0C302.4 229.1 302.4 229.2 302.4 229.4C302.3 229.6 302.3 229.7 302.2 229.9C302.1 230.1 302.1 230.2 302.0 230.4C301.9 230.5 301.8 230.7 301.7 230.8C301.6 230.9 301.5 231.0 301.4 231.0C301.3 231.0 301.2 230.9 301.1 230.7C301.0 230.5 301.0 230.2 300.9 229.9C300.9 229.7 300.9 229.5 300.9 229.3C300.8 229.1 300.8 228.9 300.8 228.7C300.8 228.6 300.8 228.4 300.8 228.3C300.8 228.2 300.8 228.0 300.8 227.9C300.8 227.8 300.8 227.7 300.8 227.7C300.8 227.6 300.8 227.5 300.8 227.4C300.8 227.4 300.8 227.3 300.8 227.2C300.8 227.2 300.8 227.1 300.8 227.1C300.8 227.0 300.7 226.9 300.7 226.9C300.7 226.8 300.7 226.8 300.7 226.7C300.7 226.7 300.7 226.6 300.7 226.6C300.7 226.5 300.7 226.5 300.7 226.4Z" fill="#ec962c"/>
<path d="M301.2 226.7C301.2 226.7 301.2 226.7 301.2 226.7C301.2 226.6 301.2 226.6 301.2 226.6C301.2 226.6 301.2 226.5 301.2 226.5C301.2 226.5 301.2 226.4 301.2 226.4C301.2 226.4 301.2 226.4 301.2 226.3C301.2 226.3 301.2 226.3 301.2 226.2C301.2 226.2 301.2 226.2 301.2 226.1C301.2 226.1 301.2 226.0 301.2 226.0C301.2 225.9 301.2 225.9 301.2 225.8C301.2 225.8 301.2 225.7 301.3 225.6C301.3 225.6 301.3 225.5 301.3 225.4C301.3 225.3 301.3 225.2 301.3 225.1C301.3 225.0 301.3 224.8 301.4 224.7C301.4 224.5 301.4 224.2 301.5 224.2C301.5 224.2 301.6 224.6 301.7 224.7C301.7 224.9 301.7 225.1 301.8 225.2C301.8 225.3 301.8 225.4 301.8 225.5C301.9 225.6 301.9 225.6 301.9 225.7C301.9 225.7 301.9 225.8 301.9 225.8C301.9 225.9 301.9 225.9 302.0 225.9C302.0 226.0 302.0 226.0 302.0 226.0C302.0 226.1 302.0 226.1 302.0 226.1C302.0 226.2 302.0 226.2 302.0 226.2C302.0 226.2 302.1 226.3 302.1 226.3C302.1 226.3 302.1 226.3 302.1 226.4C302.1 226.4 302.1 226.4 302.1 226.4C302.1 226.5 302.1 226.5 302.1 226.5C302.1 226.5 302.1 226.6 302.1 226.6C302.1 226.6 302.1 226.6 302.1 226.7C302.1 226.7 302.1 226.7 302.2 226.7C302.2 226.8 302.2 226.8 302.2 226.8C302.2 226.8 302.2 226.9 302.2 226.9C302.2 226.9 302.2 227.0 302.2 227.0C302.2 227.0 302.2 227.1 302.2 227.1C302.2 227.1 302.2 227.2 302.2 227.2C302.2 227.2 302.2 227.3 302.2 227.3C302.2 227.3 302.1 227.4 302.1 227.4C302.1 227.4 302.1 227.5 302.1 227.5C302.1 227.6 302.1 227.6 302.1 227.7C302.1 227.7 302.1 227.8 302.1 227.8C302.1 227.9 302.0 227.9 302.0 228.0C302.0 228.1 302.0 228.2 302.0 228.2C302.0 228.3 301.9 228.4 301.9 228.5C301.9 228.6 301.8 228.6 301.8 228.7C301.8 228.8 301.7 228.9 301.7 228.9C301.6 229.0 301.6 229.0 301.5 229.0C301.5 229.0 301.4 229.0 301.4 228.9C301.3 228.8 301.3 228.6 301.3 228.5C301.3 228.4 301.3 228.3 301.3 228.2C301.2 228.1 301.2 228.0 301.2 227.9C301.2 227.8 301.2 227.7 301.2 227.7C301.2 227.6 301.2 227.5 301.2 227.5C301.2 227.4 301.2 227.4 301.2 227.4C301.2 227.3 301.2 227.3 301.2 227.2C301.2 227.2 301.2 227.2 301.2 227.1C301.2 227.1 301.2 227.1 301.2 227.1C301.2 227.0 301.2 227.0 301.2 227.0C301.2 226.9 301.2 226.9 301.2 226.9C301.2 226.9 301.2 226.8 301.2 226.8C301.2 226.8 301.2 226.8 301.2 226.7Z" fill="#cf611c"/></g>
<path d="M300.50 139.50V237.50M271.85 189.50H367.85" stroke="#ff9f0a" stroke-width="0.85" stroke-opacity="0.66" fill="none"/>
<circle cx="322.13" cy="191.81" r="2.5" fill="#fff"/><circle cx="322.13" cy="191.81" r="2.1" fill="#fc0812"/>
<path d="M281.45 237.50v-3.20M281.45 139.50v3.20M293.45 237.50v-3.20M293.45 139.50v3.20M305.45 237.50v-3.20M305.45 139.50v3.20M317.45 237.50v-3.20M317.45 139.50v3.20M329.45 237.50v-3.20M329.45 139.50v3.20M341.45 237.50v-3.20M341.45 139.50v3.20M353.45 237.50v-3.20M353.45 139.50v3.20M365.45 237.50v-3.20M365.45 139.50v3.20M271.85 235.54h3.20M367.85 235.54h-3.20M271.85 223.29h3.20M367.85 223.29h-3.20M271.85 211.04h3.20M367.85 211.04h-3.20M271.85 198.79h3.20M367.85 198.79h-3.20M271.85 186.54h3.20M367.85 186.54h-3.20M271.85 174.29h3.20M367.85 174.29h-3.20M271.85 162.04h3.20M367.85 162.04h-3.20M271.85 149.79h3.20M367.85 149.79h-3.20" stroke="#555" stroke-width="0.7" fill="none"/>
<rect x="271.85" y="139.50" width="96.00" height="98.00" fill="none" stroke="#747474" stroke-width="0.8"/>
<text x="281.45" y="244.10" font-size="5.5" text-anchor="middle" fill="#3c3c3c">20</text>
<text x="293.45" y="244.10" font-size="5.5" text-anchor="middle" fill="#3c3c3c">25</text>
<text x="305.45" y="244.10" font-size="5.5" text-anchor="middle" fill="#3c3c3c">30</text>
<text x="317.45" y="244.10" font-size="5.5" text-anchor="middle" fill="#3c3c3c">35</text>
<text x="329.45" y="244.10" font-size="5.5" text-anchor="middle" fill="#3c3c3c">40</text>
<text x="341.45" y="244.10" font-size="5.5" text-anchor="middle" fill="#3c3c3c">45</text>
<text x="353.45" y="244.10" font-size="5.5" text-anchor="middle" fill="#3c3c3c">50</text>
<text x="365.45" y="244.10" font-size="5.5" text-anchor="middle" fill="#3c3c3c">55</text>
<text x="269.85" y="237.34" font-size="5.5" text-anchor="end" fill="#3c3c3c">35</text>
<text x="269.85" y="225.09" font-size="5.5" text-anchor="end" fill="#3c3c3c">40</text>
<text x="269.85" y="212.84" font-size="5.5" text-anchor="end" fill="#3c3c3c">45</text>
<text x="269.85" y="200.59" font-size="5.5" text-anchor="end" fill="#3c3c3c">50</text>
<text x="269.85" y="188.34" font-size="5.5" text-anchor="end" fill="#3c3c3c">55</text>
<text x="269.85" y="176.09" font-size="5.5" text-anchor="end" fill="#3c3c3c">60</text>
<text x="269.85" y="163.84" font-size="5.5" text-anchor="end" fill="#3c3c3c">65</text>
<text x="269.85" y="151.59" font-size="5.5" text-anchor="end" fill="#3c3c3c">70</text>
<text x="293.85" y="251.40" font-size="6.0" textLength="52.0" lengthAdjust="spacingAndGlyphs" fill="#1c1c1c" stroke="#1c1c1c" stroke-width="0.12">Surface Ozone /ppb</text>
<text transform="translate(258.05 188.50) rotate(-90)" x="-28.30" font-size="6.35" textLength="56.6" lengthAdjust="spacingAndGlyphs" fill="#1c1c1c" stroke="#1c1c1c" stroke-width="0.12">500 hPa Ozone /ppb</text>
<clipPath id="c13"><rect x="395.85" y="139.50" width="96.00" height="98.00"/></clipPath>
<path d="M405.45 139.50V237.50M417.45 139.50V237.50M429.45 139.50V237.50M441.45 139.50V237.50M453.45 139.50V237.50M465.45 139.50V237.50M477.45 139.50V237.50M489.45 139.50V237.50M395.85 235.54H491.85M395.85 223.29H491.85M395.85 211.04H491.85M395.85 198.79H491.85M395.85 186.54H491.85M395.85 174.29H491.85M395.85 162.04H491.85M395.85 149.79H491.85" stroke="#f0f0f0" stroke-width="0.6" fill="none"/>
<g clip-path="url(#c13)"><g transform="rotate(28 426.8 191.2)"><ellipse cx="426.8" cy="191.2" rx="1.0" ry="1.35" fill="#8a80a2"/><ellipse cx="426.8" cy="191.2" rx="0.72" ry="1.0" fill="#5a86c4"/><ellipse cx="426.8" cy="191.1" rx="0.45" ry="0.65" fill="#63c98e"/></g></g>
<path d="M425.00 139.50V237.50M395.85 189.50H491.85" stroke="#ff9f0a" stroke-width="0.85" stroke-opacity="0.66" fill="none"/>
<circle cx="446.13" cy="191.81" r="2.5" fill="#fff"/><circle cx="446.13" cy="191.81" r="2.1" fill="#fc0812"/>
<path d="M405.45 237.50v-3.20M405.45 139.50v3.20M417.45 237.50v-3.20M417.45 139.50v3.20M429.45 237.50v-3.20M429.45 139.50v3.20M441.45 237.50v-3.20M441.45 139.50v3.20M453.45 237.50v-3.20M453.45 139.50v3.20M465.45 237.50v-3.20M465.45 139.50v3.20M477.45 237.50v-3.20M477.45 139.50v3.20M489.45 237.50v-3.20M489.45 139.50v3.20M395.85 235.54h3.20M491.85 235.54h-3.20M395.85 223.29h3.20M491.85 223.29h-3.20M395.85 211.04h3.20M491.85 211.04h-3.20M395.85 198.79h3.20M491.85 198.79h-3.20M395.85 186.54h3.20M491.85 186.54h-3.20M395.85 174.29h3.20M491.85 174.29h-3.20M395.85 162.04h3.20M491.85 162.04h-3.20M395.85 149.79h3.20M491.85 149.79h-3.20" stroke="#555" stroke-width="0.7" fill="none"/>
<rect x="395.85" y="139.50" width="96.00" height="98.00" fill="none" stroke="#747474" stroke-width="0.8"/>
<text x="405.45" y="244.10" font-size="5.5" text-anchor="middle" fill="#3c3c3c">20</text>
<text x="417.45" y="244.10" font-size="5.5" text-anchor="middle" fill="#3c3c3c">25</text>
<text x="429.45" y="244.10" font-size="5.5" text-anchor="middle" fill="#3c3c3c">30</text>
<text x="441.45" y="244.10" font-size="5.5" text-anchor="middle" fill="#3c3c3c">35</text>
<text x="453.45" y="244.10" font-size="5.5" text-anchor="middle" fill="#3c3c3c">40</text>
<text x="465.45" y="244.10" font-size="5.5" text-anchor="middle" fill="#3c3c3c">45</text>
<text x="477.45" y="244.10" font-size="5.5" text-anchor="middle" fill="#3c3c3c">50</text>
<text x="489.45" y="244.10" font-size="5.5" text-anchor="middle" fill="#3c3c3c">55</text>
<text x="393.85" y="237.34" font-size="5.5" text-anchor="end" fill="#3c3c3c">35</text>
<text x="393.85" y="225.09" font-size="5.5" text-anchor="end" fill="#3c3c3c">40</text>
<text x="393.85" y="212.84" font-size="5.5" text-anchor="end" fill="#3c3c3c">45</text>
<text x="393.85" y="200.59" font-size="5.5" text-anchor="end" fill="#3c3c3c">50</text>
<text x="393.85" y="188.34" font-size="5.5" text-anchor="end" fill="#3c3c3c">55</text>
<text x="393.85" y="176.09" font-size="5.5" text-anchor="end" fill="#3c3c3c">60</text>
<text x="393.85" y="163.84" font-size="5.5" text-anchor="end" fill="#3c3c3c">65</text>
<text x="393.85" y="151.59" font-size="5.5" text-anchor="end" fill="#3c3c3c">70</text>
<text x="417.85" y="251.40" font-size="6.0" textLength="52.0" lengthAdjust="spacingAndGlyphs" fill="#1c1c1c" stroke="#1c1c1c" stroke-width="0.12">Surface Ozone /ppb</text>
<text transform="translate(382.05 188.50) rotate(-90)" x="-28.30" font-size="6.35" textLength="56.6" lengthAdjust="spacingAndGlyphs" fill="#1c1c1c" stroke="#1c1c1c" stroke-width="0.12">500 hPa Ozone /ppb</text>
<linearGradient id="g1" x1="0" y1="1" x2="0" y2="0"><stop offset="0.000" stop-color="#41254b"/><stop offset="0.083" stop-color="#525cc0"/><stop offset="0.167" stop-color="#558ffa"/><stop offset="0.250" stop-color="#3ac1ed"/><stop offset="0.333" stop-color="#2de7bc"/><stop offset="0.417" stop-color="#63fb81"/><stop offset="0.500" stop-color="#abfd4b"/><stop offset="0.583" stop-color="#dce646"/><stop offset="0.667" stop-color="#fac048"/><stop offset="0.750" stop-color="#fb8833"/><stop offset="0.833" stop-color="#e6541e"/><stop offset="0.917" stop-color="#bf3016"/><stop offset="1.000" stop-color="#851817"/></linearGradient>
<rect x="467.25" y="204.70" width="4.80" height="25.00" fill="url(#g1)"/>
<text x="476.95" y="206.40" font-size="5.0" fill="#1c1c1c">1.00</text>
<text x="476.95" y="213.32" font-size="5.0" fill="#1c1c1c">0.75</text>
<text x="476.95" y="220.24" font-size="5.0" fill="#1c1c1c">0.50</text>
<text x="476.95" y="227.16" font-size="5.0" fill="#1c1c1c">0.25</text>
</svg></body></html>
